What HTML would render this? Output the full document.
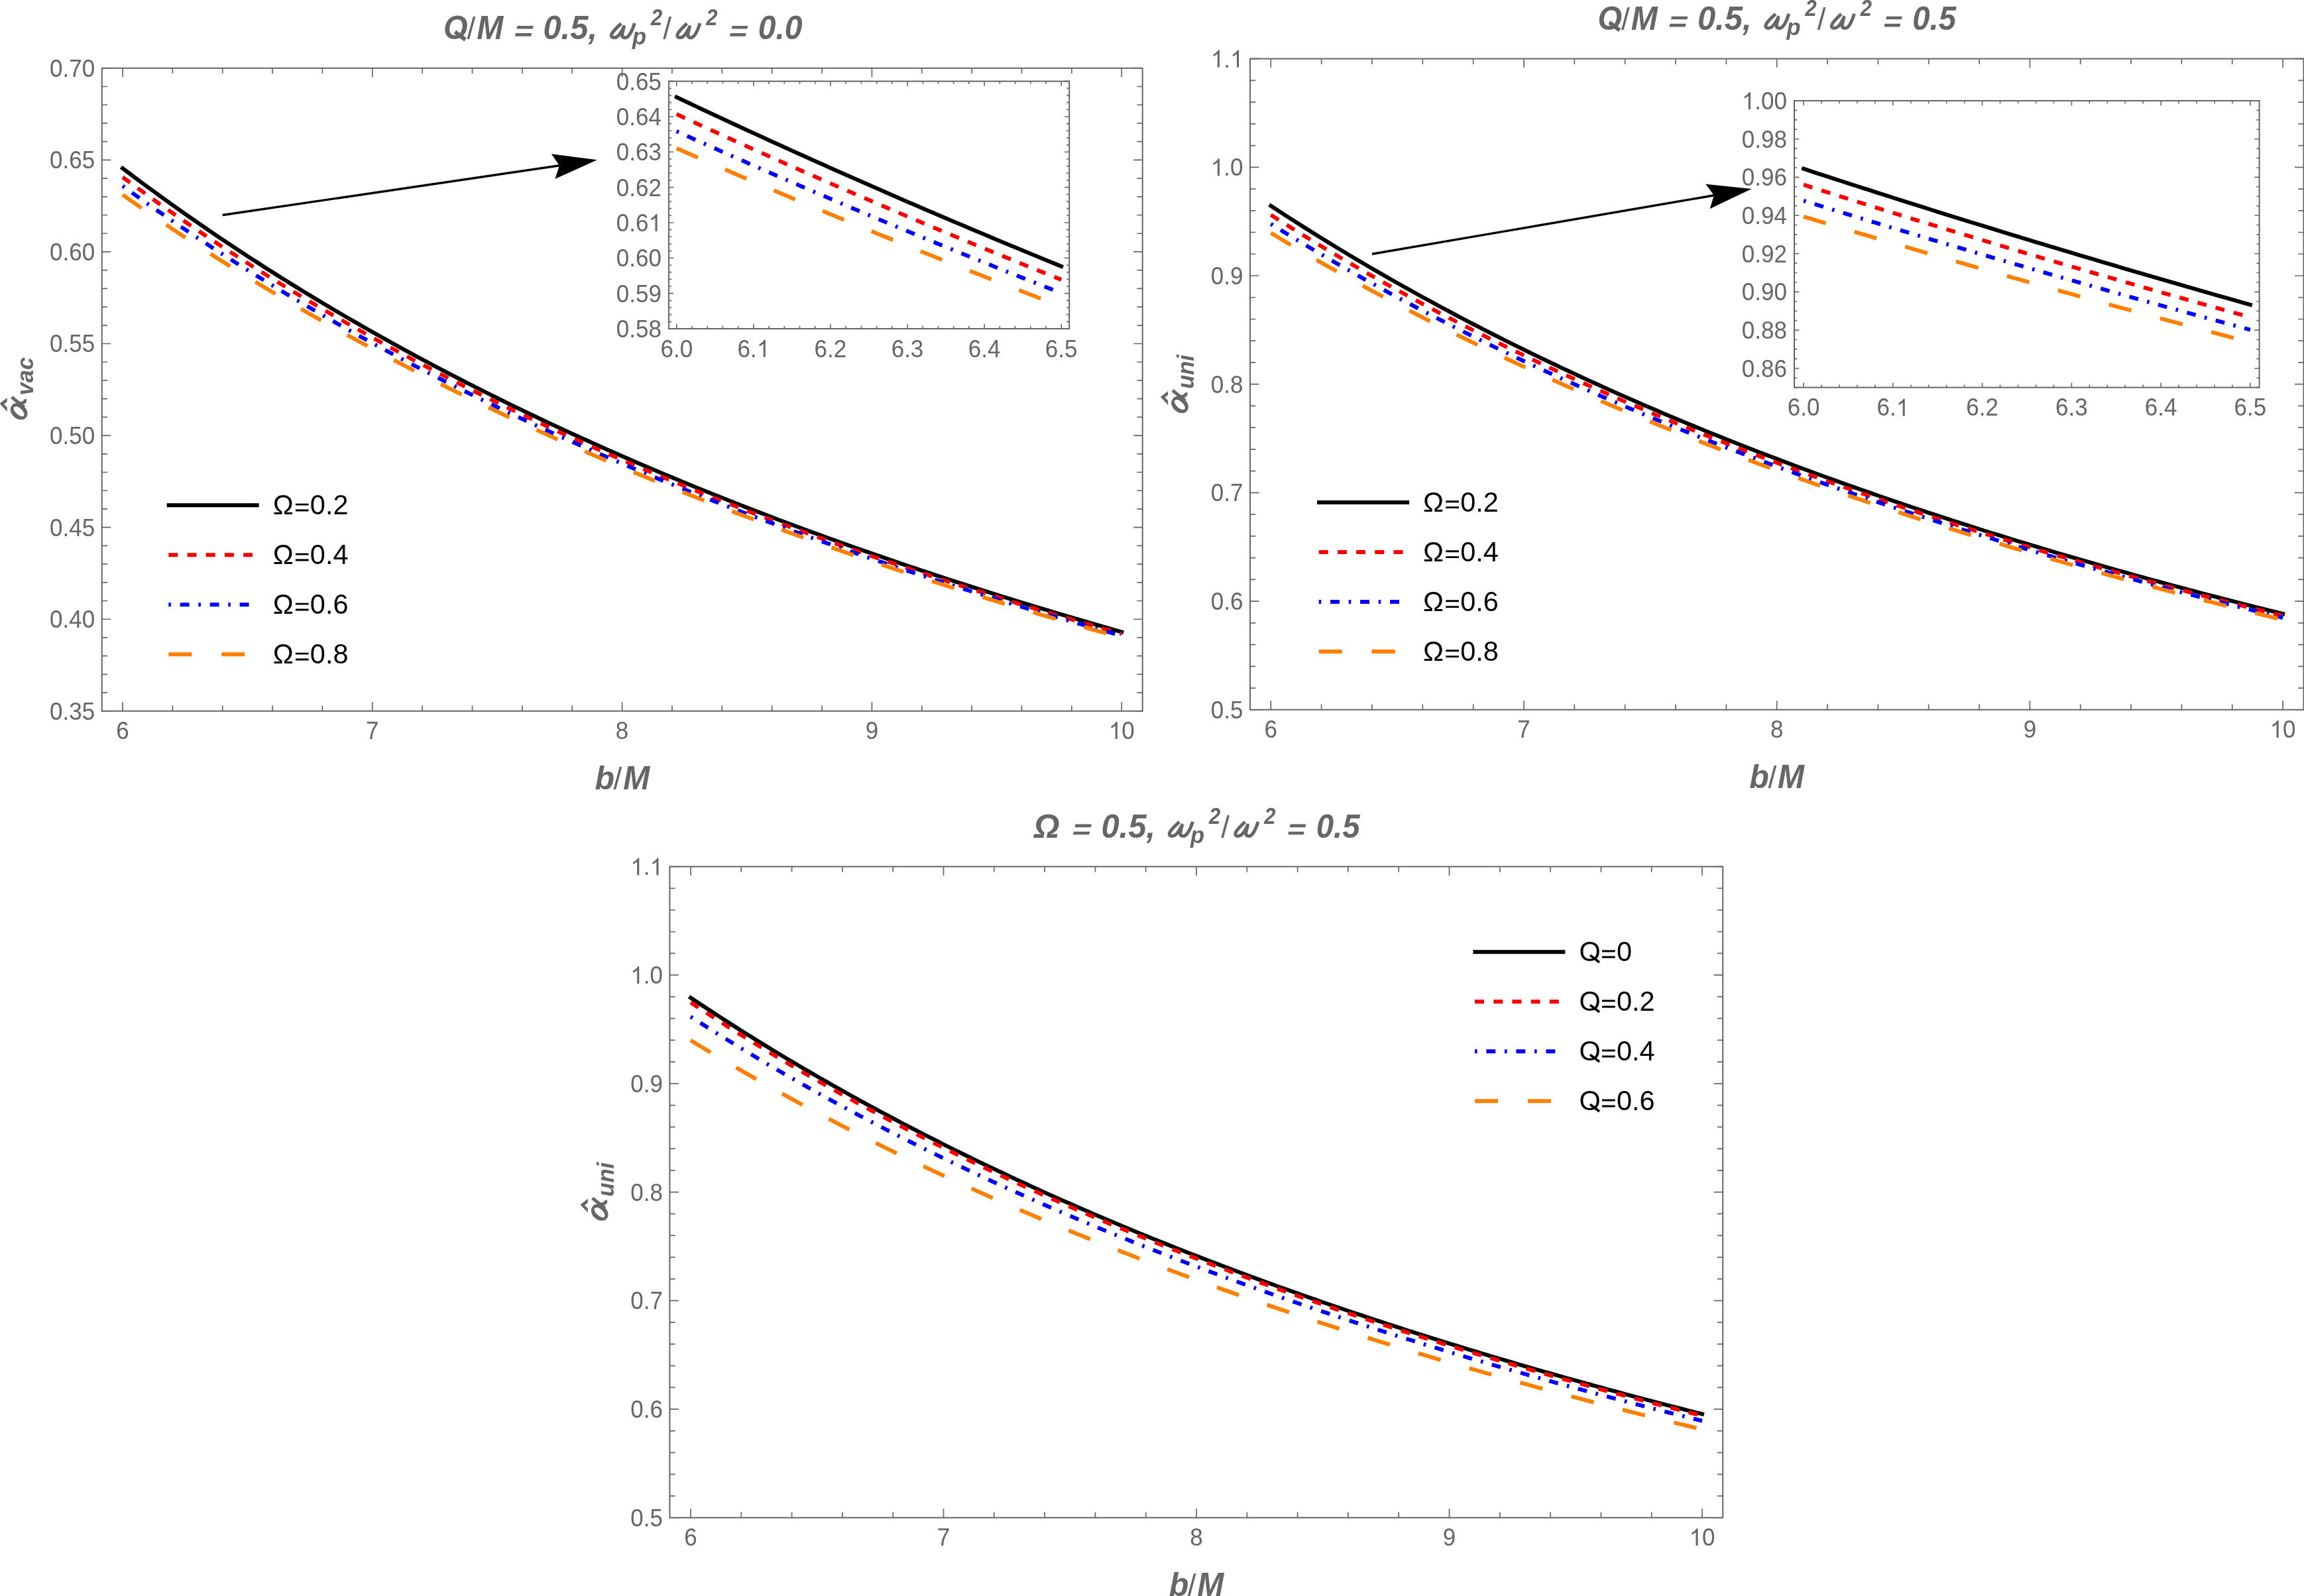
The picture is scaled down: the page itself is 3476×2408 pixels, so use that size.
<!DOCTYPE html>
<html><head><meta charset="utf-8"><title>Deflection angle plots</title>
<style>
html,body{margin:0;padding:0;background:#fff;}
body{width:3476px;height:2408px;overflow:hidden;font-family:"Liberation Sans",sans-serif;}
svg{display:block;will-change:transform;}
</style></head><body>
<svg width="3476" height="2408" viewBox="0 0 3476 2408" font-family="Liberation Sans, sans-serif">
<g>
<path d="M185.00,253.87 L194.42,261.00 L203.84,268.07 L213.26,275.08 L222.68,282.04 L232.10,288.95 L241.52,295.80 L250.94,302.60 L260.36,309.34 L269.78,316.04 L279.20,322.68 L288.62,329.28 L298.04,335.82 L307.46,342.32 L316.88,348.76 L326.30,355.16 L335.72,361.51 L345.14,367.81 L354.56,374.07 L363.98,380.28 L373.40,386.44 L382.82,392.56 L392.24,398.63 L401.66,404.66 L411.08,410.65 L420.50,416.59 L429.92,422.49 L439.34,428.35 L448.76,434.17 L458.18,439.94 L467.60,445.67 L477.02,451.37 L486.44,457.02 L495.86,462.63 L505.28,468.21 L514.70,473.74 L524.12,479.24 L533.54,484.70 L542.96,490.12 L552.38,495.50 L561.80,500.85 L571.22,506.16 L580.64,511.43 L590.06,516.67 L599.48,521.87 L608.90,527.04 L618.32,532.17 L627.74,537.27 L637.16,542.33 L646.58,547.36 L656.00,552.36 L665.42,557.32 L674.84,562.25 L684.26,567.15 L693.68,572.02 L703.10,576.85 L712.52,581.66 L721.94,586.43 L731.36,591.17 L740.78,595.88 L750.20,600.56 L759.62,605.21 L769.04,609.83 L778.46,614.42 L787.88,618.98 L797.30,623.52 L806.72,628.02 L816.14,632.50 L825.56,636.94 L834.98,641.36 L844.40,645.76 L853.82,650.12 L863.24,654.46 L872.66,658.77 L882.08,663.06 L891.50,667.32 L900.92,671.55 L910.34,675.76 L919.76,679.94 L929.18,684.09 L938.60,688.22 L948.02,692.33 L957.44,696.41 L966.86,700.47 L976.28,704.50 L985.70,708.51 L995.12,712.49 L1004.54,716.45 L1013.96,720.39 L1023.38,724.30 L1032.80,728.20 L1042.22,732.06 L1051.64,735.91 L1061.06,739.73 L1070.48,743.53 L1079.90,747.31 L1089.32,751.07 L1098.74,754.81 L1108.16,758.52 L1117.58,762.21 L1127.00,765.89 L1136.42,769.54 L1145.84,773.17 L1155.26,776.78 L1164.68,780.37 L1174.10,783.94 L1183.52,787.49 L1192.94,791.02 L1202.36,794.53 L1211.78,798.02 L1221.20,801.49 L1230.62,804.94 L1240.04,808.37 L1249.46,811.78 L1258.88,815.18 L1268.30,818.55 L1277.72,821.91 L1287.14,825.25 L1296.56,828.57 L1305.98,831.88 L1315.40,835.16 L1324.82,838.43 L1334.24,841.68 L1343.66,844.91 L1353.08,848.13 L1362.50,851.33 L1371.92,854.51 L1381.34,857.67 L1390.76,860.82 L1400.18,863.95 L1409.60,867.07 L1419.02,870.16 L1428.44,873.25 L1437.86,876.31 L1447.28,879.36 L1456.70,882.40 L1466.12,885.41 L1475.54,888.42 L1484.96,891.40 L1494.38,894.38 L1503.80,897.33 L1513.22,900.27 L1522.64,903.20 L1532.06,906.11 L1541.48,909.01 L1550.90,911.89 L1560.32,914.76 L1569.74,917.61 L1579.16,920.45 L1588.58,923.28 L1598.00,926.09 L1607.42,928.88 L1616.84,931.67 L1626.26,934.43 L1635.68,937.19 L1645.10,939.93 L1654.52,942.66 L1663.94,945.37 L1673.36,948.07 L1682.78,950.76 L1692.20,953.44" stroke="#000000" stroke-width="6.00" stroke-linecap="square" fill="none"/>
<path d="M185.00,267.22 L194.42,274.18 L203.84,281.08 L213.26,287.94 L222.68,294.74 L232.10,301.49 L241.52,308.19 L250.94,314.84 L260.36,321.44 L269.78,327.99 L279.20,334.49 L288.62,340.94 L298.04,347.35 L307.46,353.71 L316.88,360.02 L326.30,366.28 L335.72,372.50 L345.14,378.68 L354.56,384.81 L363.98,390.89 L373.40,396.94 L382.82,402.93 L392.24,408.89 L401.66,414.80 L411.08,420.67 L420.50,426.50 L429.92,432.29 L439.34,438.04 L448.76,443.75 L458.18,449.42 L467.60,455.05 L477.02,460.64 L486.44,466.19 L495.86,471.70 L505.28,477.17 L514.70,482.61 L524.12,488.01 L533.54,493.38 L542.96,498.70 L552.38,503.99 L561.80,509.25 L571.22,514.47 L580.64,519.66 L590.06,524.81 L599.48,529.92 L608.90,535.01 L618.32,540.05 L627.74,545.07 L637.16,550.05 L646.58,555.00 L656.00,559.92 L665.42,564.81 L674.84,569.66 L684.26,574.48 L693.68,579.28 L703.10,584.04 L712.52,588.77 L721.94,593.47 L731.36,598.14 L740.78,602.78 L750.20,607.39 L759.62,611.97 L769.04,616.53 L778.46,621.05 L787.88,625.55 L797.30,630.02 L806.72,634.46 L816.14,638.87 L825.56,643.26 L834.98,647.62 L844.40,651.95 L853.82,656.26 L863.24,660.53 L872.66,664.79 L882.08,669.02 L891.50,673.22 L900.92,677.39 L910.34,681.55 L919.76,685.67 L929.18,689.78 L938.60,693.85 L948.02,697.91 L957.44,701.94 L966.86,705.94 L976.28,709.92 L985.70,713.88 L995.12,717.82 L1004.54,721.73 L1013.96,725.62 L1023.38,729.48 L1032.80,733.33 L1042.22,737.15 L1051.64,740.95 L1061.06,744.73 L1070.48,748.49 L1079.90,752.22 L1089.32,755.93 L1098.74,759.63 L1108.16,763.30 L1117.58,766.95 L1127.00,770.58 L1136.42,774.19 L1145.84,777.78 L1155.26,781.35 L1164.68,784.90 L1174.10,788.43 L1183.52,791.94 L1192.94,795.43 L1202.36,798.90 L1211.78,802.35 L1221.20,805.79 L1230.62,809.20 L1240.04,812.60 L1249.46,815.98 L1258.88,819.34 L1268.30,822.68 L1277.72,826.00 L1287.14,829.31 L1296.56,832.59 L1305.98,835.86 L1315.40,839.12 L1324.82,842.35 L1334.24,845.57 L1343.66,848.77 L1353.08,851.95 L1362.50,855.12 L1371.92,858.27 L1381.34,861.40 L1390.76,864.52 L1400.18,867.62 L1409.60,870.71 L1419.02,873.78 L1428.44,876.83 L1437.86,879.87 L1447.28,882.89 L1456.70,885.89 L1466.12,888.88 L1475.54,891.86 L1484.96,894.82 L1494.38,897.76 L1503.80,900.69 L1513.22,903.61 L1522.64,906.51 L1532.06,909.40 L1541.48,912.27 L1550.90,915.12 L1560.32,917.97 L1569.74,920.80 L1579.16,923.61 L1588.58,926.41 L1598.00,929.20 L1607.42,931.97 L1616.84,934.73 L1626.26,937.47 L1635.68,940.20 L1645.10,942.92 L1654.52,945.63 L1663.94,948.32 L1673.36,951.00 L1682.78,953.67 L1692.20,956.32" stroke="#f80000" stroke-width="6.00" stroke-dasharray="14.0 14.2" fill="none"/>
<path d="M185.00,280.56 L194.42,287.35 L203.84,294.10 L213.26,300.79 L222.68,307.44 L232.10,314.03 L241.52,320.58 L250.94,327.08 L260.36,333.53 L269.78,339.94 L279.20,346.30 L288.62,352.61 L298.04,358.88 L307.46,365.10 L316.88,371.27 L326.30,377.41 L335.72,383.50 L345.14,389.55 L354.56,395.55 L363.98,401.51 L373.40,407.43 L382.82,413.31 L392.24,419.15 L401.66,424.94 L411.08,430.70 L420.50,436.42 L429.92,442.09 L439.34,447.73 L448.76,453.33 L458.18,458.89 L467.60,464.42 L477.02,469.90 L486.44,475.35 L495.86,480.77 L505.28,486.14 L514.70,491.48 L524.12,496.79 L533.54,502.05 L542.96,507.29 L552.38,512.49 L561.80,517.65 L571.22,522.78 L580.64,527.88 L590.06,532.94 L599.48,537.98 L608.90,542.97 L618.32,547.94 L627.74,552.87 L637.16,557.78 L646.58,562.65 L656.00,567.48 L665.42,572.29 L674.84,577.07 L684.26,581.82 L693.68,586.54 L703.10,591.22 L712.52,595.88 L721.94,600.51 L731.36,605.11 L740.78,609.68 L750.20,614.22 L759.62,618.74 L769.04,623.22 L778.46,627.68 L787.88,632.11 L797.30,636.52 L806.72,640.90 L816.14,645.25 L825.56,649.57 L834.98,653.87 L844.40,658.14 L853.82,662.39 L863.24,666.61 L872.66,670.80 L882.08,674.97 L891.50,679.12 L900.92,683.24 L910.34,687.34 L919.76,691.41 L929.18,695.46 L938.60,699.48 L948.02,703.48 L957.44,707.46 L966.86,711.41 L976.28,715.35 L985.70,719.25 L995.12,723.14 L1004.54,727.00 L1013.96,730.84 L1023.38,734.66 L1032.80,738.46 L1042.22,742.24 L1051.64,745.99 L1061.06,749.72 L1070.48,753.44 L1079.90,757.13 L1089.32,760.80 L1098.74,764.45 L1108.16,768.08 L1117.58,771.68 L1127.00,775.27 L1136.42,778.84 L1145.84,782.39 L1155.26,785.92 L1164.68,789.43 L1174.10,792.92 L1183.52,796.39 L1192.94,799.85 L1202.36,803.28 L1211.78,806.69 L1221.20,810.09 L1230.62,813.47 L1240.04,816.83 L1249.46,820.17 L1258.88,823.49 L1268.30,826.80 L1277.72,830.09 L1287.14,833.36 L1296.56,836.61 L1305.98,839.85 L1315.40,843.07 L1324.82,846.27 L1334.24,849.46 L1343.66,852.63 L1353.08,855.78 L1362.50,858.91 L1371.92,862.03 L1381.34,865.14 L1390.76,868.22 L1400.18,871.29 L1409.60,874.35 L1419.02,877.39 L1428.44,880.41 L1437.86,883.42 L1447.28,886.41 L1456.70,889.39 L1466.12,892.35 L1475.54,895.30 L1484.96,898.24 L1494.38,901.15 L1503.80,904.06 L1513.22,906.95 L1522.64,909.82 L1532.06,912.68 L1541.48,915.53 L1550.90,918.36 L1560.32,921.17 L1569.74,923.98 L1579.16,926.77 L1588.58,929.54 L1598.00,932.31 L1607.42,935.05 L1616.84,937.79 L1626.26,940.51 L1635.68,943.22 L1645.10,945.92 L1654.52,948.60 L1663.94,951.27 L1673.36,953.93 L1682.78,956.57 L1692.20,959.20" stroke="#0000f0" stroke-width="6.00" stroke-dasharray="3.6 13.8 13.9 13.7" fill="none"/>
<path d="M185.00,293.90 L194.42,300.53 L203.84,307.11 L213.26,313.65 L222.68,320.14 L232.10,326.58 L241.52,332.97 L250.94,339.32 L260.36,345.63 L269.78,351.89 L279.20,358.10 L288.62,364.27 L298.04,370.40 L307.46,376.49 L316.88,382.53 L326.30,388.53 L335.72,394.49 L345.14,400.41 L354.56,406.29 L363.98,412.13 L373.40,417.93 L382.82,423.68 L392.24,429.40 L401.66,435.08 L411.08,440.73 L420.50,446.33 L429.92,451.90 L439.34,457.42 L448.76,462.92 L458.18,468.37 L467.60,473.79 L477.02,479.17 L486.44,484.52 L495.86,489.83 L505.28,495.11 L514.70,500.35 L524.12,505.56 L533.54,510.73 L542.96,515.87 L552.38,520.98 L561.80,526.06 L571.22,531.10 L580.64,536.11 L590.06,541.08 L599.48,546.03 L608.90,550.94 L618.32,555.82 L627.74,560.68 L637.16,565.50 L646.58,570.29 L656.00,575.05 L665.42,579.78 L674.84,584.48 L684.26,589.15 L693.68,593.79 L703.10,598.41 L712.52,602.99 L721.94,607.55 L731.36,612.08 L740.78,616.58 L750.20,621.06 L759.62,625.50 L769.04,629.92 L778.46,634.31 L787.88,638.68 L797.30,643.02 L806.72,647.33 L816.14,651.62 L825.56,655.88 L834.98,660.12 L844.40,664.33 L853.82,668.52 L863.24,672.68 L872.66,676.82 L882.08,680.93 L891.50,685.02 L900.92,689.09 L910.34,693.13 L919.76,697.15 L929.18,701.14 L938.60,705.11 L948.02,709.06 L957.44,712.99 L966.86,716.89 L976.28,720.77 L985.70,724.63 L995.12,728.46 L1004.54,732.28 L1013.96,736.07 L1023.38,739.84 L1032.80,743.59 L1042.22,747.32 L1051.64,751.03 L1061.06,754.72 L1070.48,758.39 L1079.90,762.03 L1089.32,765.66 L1098.74,769.27 L1108.16,772.85 L1117.58,776.42 L1127.00,779.97 L1136.42,783.49 L1145.84,787.00 L1155.26,790.49 L1164.68,793.96 L1174.10,797.41 L1183.52,800.85 L1192.94,804.26 L1202.36,807.66 L1211.78,811.03 L1221.20,814.39 L1230.62,817.73 L1240.04,821.06 L1249.46,824.36 L1258.88,827.65 L1268.30,830.92 L1277.72,834.18 L1287.14,837.41 L1296.56,840.63 L1305.98,843.84 L1315.40,847.02 L1324.82,850.19 L1334.24,853.35 L1343.66,856.48 L1353.08,859.60 L1362.50,862.71 L1371.92,865.80 L1381.34,868.87 L1390.76,871.92 L1400.18,874.97 L1409.60,877.99 L1419.02,881.00 L1428.44,884.00 L1437.86,886.98 L1447.28,889.94 L1456.70,892.89 L1466.12,895.83 L1475.54,898.75 L1484.96,901.65 L1494.38,904.54 L1503.80,907.42 L1513.22,910.28 L1522.64,913.13 L1532.06,915.96 L1541.48,918.78 L1550.90,921.59 L1560.32,924.38 L1569.74,927.16 L1579.16,929.93 L1588.58,932.68 L1598.00,935.42 L1607.42,938.14 L1616.84,940.85 L1626.26,943.55 L1635.68,946.24 L1645.10,948.91 L1654.52,951.57 L1663.94,954.22 L1673.36,956.85 L1682.78,959.47 L1692.20,962.08" stroke="#ff8000" stroke-width="6.00" stroke-dasharray="35 44.9" fill="none"/>
<path d="M185.00,1072.80v-13.50M185.00,102.80v13.50M260.36,1072.80v-8.30M260.36,102.80v8.30M335.72,1072.80v-8.30M335.72,102.80v8.30M411.08,1072.80v-8.30M411.08,102.80v8.30M486.44,1072.80v-8.30M486.44,102.80v8.30M561.80,1072.80v-13.50M561.80,102.80v13.50M637.16,1072.80v-8.30M637.16,102.80v8.30M712.52,1072.80v-8.30M712.52,102.80v8.30M787.88,1072.80v-8.30M787.88,102.80v8.30M863.24,1072.80v-8.30M863.24,102.80v8.30M938.60,1072.80v-13.50M938.60,102.80v13.50M1013.96,1072.80v-8.30M1013.96,102.80v8.30M1089.32,1072.80v-8.30M1089.32,102.80v8.30M1164.68,1072.80v-8.30M1164.68,102.80v8.30M1240.04,1072.80v-8.30M1240.04,102.80v8.30M1315.40,1072.80v-13.50M1315.40,102.80v13.50M1390.76,1072.80v-8.30M1390.76,102.80v8.30M1466.12,1072.80v-8.30M1466.12,102.80v8.30M1541.48,1072.80v-8.30M1541.48,102.80v8.30M1616.84,1072.80v-8.30M1616.84,102.80v8.30M1692.20,1072.80v-13.50M1692.20,102.80v13.50M153.70,1072.80h13.50M1723.70,1072.80h-13.50M153.70,1045.09h8.30M1723.70,1045.09h-8.30M153.70,1017.37h8.30M1723.70,1017.37h-8.30M153.70,989.66h8.30M1723.70,989.66h-8.30M153.70,961.94h8.30M1723.70,961.94h-8.30M153.70,934.23h13.50M1723.70,934.23h-13.50M153.70,906.51h8.30M1723.70,906.51h-8.30M153.70,878.80h8.30M1723.70,878.80h-8.30M153.70,851.09h8.30M1723.70,851.09h-8.30M153.70,823.37h8.30M1723.70,823.37h-8.30M153.70,795.66h13.50M1723.70,795.66h-13.50M153.70,767.94h8.30M1723.70,767.94h-8.30M153.70,740.23h8.30M1723.70,740.23h-8.30M153.70,712.51h8.30M1723.70,712.51h-8.30M153.70,684.80h8.30M1723.70,684.80h-8.30M153.70,657.09h13.50M1723.70,657.09h-13.50M153.70,629.37h8.30M1723.70,629.37h-8.30M153.70,601.66h8.30M1723.70,601.66h-8.30M153.70,573.94h8.30M1723.70,573.94h-8.30M153.70,546.23h8.30M1723.70,546.23h-8.30M153.70,518.51h13.50M1723.70,518.51h-13.50M153.70,490.80h8.30M1723.70,490.80h-8.30M153.70,463.09h8.30M1723.70,463.09h-8.30M153.70,435.37h8.30M1723.70,435.37h-8.30M153.70,407.66h8.30M1723.70,407.66h-8.30M153.70,379.94h13.50M1723.70,379.94h-13.50M153.70,352.23h8.30M1723.70,352.23h-8.30M153.70,324.51h8.30M1723.70,324.51h-8.30M153.70,296.80h8.30M1723.70,296.80h-8.30M153.70,269.09h8.30M1723.70,269.09h-8.30M153.70,241.37h13.50M1723.70,241.37h-13.50M153.70,213.66h8.30M1723.70,213.66h-8.30M153.70,185.94h8.30M1723.70,185.94h-8.30M153.70,158.23h8.30M1723.70,158.23h-8.30M153.70,130.51h8.30M1723.70,130.51h-8.30M153.70,102.80h13.50M1723.70,102.80h-13.50" stroke="#666666" stroke-width="1.70" fill="none"/>
<rect x="153.70" y="102.80" width="1570.00" height="970.00" stroke="#666666" stroke-width="2.00" fill="none"/>
<g transform="translate(0,1102.15) scale(1,1.035) translate(0,-1102.15)">
<text x="175.27" y="1114.68" font-size="35" fill="#666666">6</text>
</g>
<g transform="translate(0,1102.15) scale(1,1.035) translate(0,-1102.15)">
<text x="552.07" y="1114.68" font-size="35" fill="#666666">7</text>
</g>
<g transform="translate(0,1102.15) scale(1,1.035) translate(0,-1102.15)">
<text x="928.87" y="1114.68" font-size="35" fill="#666666">8</text>
</g>
<g transform="translate(0,1102.15) scale(1,1.035) translate(0,-1102.15)">
<text x="1305.67" y="1114.68" font-size="35" fill="#666666">9</text>
</g>
<g transform="translate(0,1102.15) scale(1,1.035) translate(0,-1102.15)">
<path transform="translate(1672.73,1114.68) scale(0.01709,-0.01709)" d="M763,0 L583,0 L583,1147 Q518,1085 412.5,1023 Q307,961 223,930 L223,1104 Q374,1175 487,1276 Q600,1377 647,1472 L763,1472 Z" fill="#666666"/>
<text x="1692.20" y="1114.68" font-size="35" fill="#666666">0</text>
</g>
<g transform="translate(0,1072.80) scale(1,1.035) translate(0,-1072.80)">
<text x="75.06" y="1085.33" font-size="35" fill="#666666">0.35</text>
</g>
<g transform="translate(0,934.23) scale(1,1.035) translate(0,-934.23)">
<text x="75.06" y="946.76" font-size="35" fill="#666666">0.40</text>
</g>
<g transform="translate(0,795.66) scale(1,1.035) translate(0,-795.66)">
<text x="75.06" y="808.19" font-size="35" fill="#666666">0.45</text>
</g>
<g transform="translate(0,657.09) scale(1,1.035) translate(0,-657.09)">
<text x="75.06" y="669.62" font-size="35" fill="#666666">0.50</text>
</g>
<g transform="translate(0,518.51) scale(1,1.035) translate(0,-518.51)">
<text x="75.06" y="531.04" font-size="35" fill="#666666">0.55</text>
</g>
<g transform="translate(0,379.94) scale(1,1.035) translate(0,-379.94)">
<text x="75.06" y="392.47" font-size="35" fill="#666666">0.60</text>
</g>
<g transform="translate(0,241.37) scale(1,1.035) translate(0,-241.37)">
<text x="75.06" y="253.90" font-size="35" fill="#666666">0.65</text>
</g>
<g transform="translate(0,102.80) scale(1,1.035) translate(0,-102.80)">
<text x="75.06" y="115.33" font-size="35" fill="#666666">0.70</text>
</g>
</g>
<rect x="1009.00" y="122.60" width="604.20" height="373.40" fill="#fff"/>
<path d="M1020.80,146.66 L1030.47,151.24 L1040.15,155.82 L1049.82,160.38 L1059.49,164.92 L1069.17,169.46 L1078.84,173.98 L1088.51,178.49 L1098.19,182.99 L1107.86,187.48 L1117.53,191.96 L1127.21,196.42 L1136.88,200.88 L1146.55,205.32 L1156.23,209.75 L1165.90,214.17 L1175.57,218.58 L1185.25,222.97 L1194.92,227.36 L1204.59,231.73 L1214.27,236.09 L1223.94,240.44 L1233.61,244.78 L1243.29,249.11 L1252.96,253.43 L1262.63,257.74 L1272.31,262.03 L1281.98,266.32 L1291.65,270.59 L1301.33,274.85 L1311.00,279.11 L1320.67,283.35 L1330.35,287.58 L1340.02,291.80 L1349.69,296.01 L1359.37,300.20 L1369.04,304.39 L1378.71,308.57 L1388.39,312.74 L1398.06,316.89 L1407.73,321.04 L1417.41,325.17 L1427.08,329.30 L1436.75,333.41 L1446.43,337.52 L1456.10,341.61 L1465.77,345.70 L1475.45,349.77 L1485.12,353.83 L1494.79,357.89 L1504.47,361.93 L1514.14,365.96 L1523.81,369.99 L1533.49,374.00 L1543.16,378.00 L1552.83,382.00 L1562.51,385.98 L1572.18,389.96 L1581.85,393.92 L1591.53,397.87 L1601.20,401.82" stroke="#000000" stroke-width="6.00" stroke-linecap="square" fill="none"/>
<path d="M1020.80,172.34 L1030.47,176.82 L1040.15,181.29 L1049.82,185.74 L1059.49,190.18 L1069.17,194.61 L1078.84,199.03 L1088.51,203.44 L1098.19,207.84 L1107.86,212.23 L1117.53,216.60 L1127.21,220.97 L1136.88,225.32 L1146.55,229.66 L1156.23,233.99 L1165.90,238.31 L1175.57,242.62 L1185.25,246.92 L1194.92,251.21 L1204.59,255.48 L1214.27,259.75 L1223.94,264.01 L1233.61,268.25 L1243.29,272.48 L1252.96,276.71 L1262.63,280.92 L1272.31,285.12 L1281.98,289.31 L1291.65,293.50 L1301.33,297.67 L1311.00,301.83 L1320.67,305.98 L1330.35,310.12 L1340.02,314.25 L1349.69,318.37 L1359.37,322.48 L1369.04,326.58 L1378.71,330.67 L1388.39,334.75 L1398.06,338.82 L1407.73,342.88 L1417.41,346.92 L1427.08,350.96 L1436.75,354.99 L1446.43,359.01 L1456.10,363.02 L1465.77,367.02 L1475.45,371.01 L1485.12,375.00 L1494.79,378.97 L1504.47,382.93 L1514.14,386.88 L1523.81,390.82 L1533.49,394.75 L1543.16,398.68 L1552.83,402.59 L1562.51,406.50 L1572.18,410.39 L1581.85,414.28 L1591.53,418.15 L1601.20,422.02" stroke="#f80000" stroke-width="6.00" stroke-dasharray="14.0 14.2" fill="none"/>
<path d="M1020.80,198.03 L1030.47,202.40 L1040.15,206.76 L1049.82,211.11 L1059.49,215.44 L1069.17,219.77 L1078.84,224.09 L1088.51,228.39 L1098.19,232.69 L1107.86,236.97 L1117.53,241.24 L1127.21,245.51 L1136.88,249.76 L1146.55,254.00 L1156.23,258.23 L1165.90,262.46 L1175.57,266.67 L1185.25,270.87 L1194.92,275.06 L1204.59,279.24 L1214.27,283.41 L1223.94,287.57 L1233.61,291.72 L1243.29,295.86 L1252.96,299.99 L1262.63,304.10 L1272.31,308.21 L1281.98,312.31 L1291.65,316.40 L1301.33,320.48 L1311.00,324.55 L1320.67,328.61 L1330.35,332.66 L1340.02,336.70 L1349.69,340.73 L1359.37,344.75 L1369.04,348.76 L1378.71,352.77 L1388.39,356.76 L1398.06,360.74 L1407.73,364.71 L1417.41,368.68 L1427.08,372.63 L1436.75,376.58 L1446.43,380.51 L1456.10,384.44 L1465.77,388.35 L1475.45,392.26 L1485.12,396.16 L1494.79,400.05 L1504.47,403.93 L1514.14,407.80 L1523.81,411.66 L1533.49,415.51 L1543.16,419.35 L1552.83,423.19 L1562.51,427.01 L1572.18,430.83 L1581.85,434.63 L1591.53,438.43 L1601.20,442.22" stroke="#0000f0" stroke-width="6.00" stroke-dasharray="3.6 13.8 13.9 13.7" fill="none"/>
<path d="M1020.80,223.71 L1030.47,227.98 L1040.15,232.23 L1049.82,236.47 L1059.49,240.70 L1069.17,244.93 L1078.84,249.14 L1088.51,253.34 L1098.19,257.53 L1107.86,261.72 L1117.53,265.89 L1127.21,270.05 L1136.88,274.20 L1146.55,278.34 L1156.23,282.48 L1165.90,286.60 L1175.57,290.71 L1185.25,294.81 L1194.92,298.91 L1204.59,302.99 L1214.27,307.06 L1223.94,311.13 L1233.61,315.18 L1243.29,319.23 L1252.96,323.26 L1262.63,327.29 L1272.31,331.30 L1281.98,335.31 L1291.65,339.31 L1301.33,343.30 L1311.00,347.27 L1320.67,351.24 L1330.35,355.20 L1340.02,359.15 L1349.69,363.10 L1359.37,367.03 L1369.04,370.95 L1378.71,374.86 L1388.39,378.77 L1398.06,382.66 L1407.73,386.55 L1417.41,390.43 L1427.08,394.30 L1436.75,398.16 L1446.43,402.01 L1456.10,405.85 L1465.77,409.68 L1475.45,413.51 L1485.12,417.32 L1494.79,421.13 L1504.47,424.92 L1514.14,428.71 L1523.81,432.49 L1533.49,436.26 L1543.16,440.03 L1552.83,443.78 L1562.51,447.53 L1572.18,451.26 L1581.85,454.99 L1591.53,458.71 L1601.20,462.42" stroke="#ff8000" stroke-width="6.00" stroke-dasharray="35 44.9" fill="none"/>
<path d="M1020.80,496.00v-7.20M1020.80,122.60v7.20M1044.02,496.00v-4.20M1044.02,122.60v4.20M1067.23,496.00v-4.20M1067.23,122.60v4.20M1090.45,496.00v-4.20M1090.45,122.60v4.20M1113.66,496.00v-4.20M1113.66,122.60v4.20M1136.88,496.00v-7.20M1136.88,122.60v7.20M1160.10,496.00v-4.20M1160.10,122.60v4.20M1183.31,496.00v-4.20M1183.31,122.60v4.20M1206.53,496.00v-4.20M1206.53,122.60v4.20M1229.74,496.00v-4.20M1229.74,122.60v4.20M1252.96,496.00v-7.20M1252.96,122.60v7.20M1276.18,496.00v-4.20M1276.18,122.60v4.20M1299.39,496.00v-4.20M1299.39,122.60v4.20M1322.61,496.00v-4.20M1322.61,122.60v4.20M1345.82,496.00v-4.20M1345.82,122.60v4.20M1369.04,496.00v-7.20M1369.04,122.60v7.20M1392.26,496.00v-4.20M1392.26,122.60v4.20M1415.47,496.00v-4.20M1415.47,122.60v4.20M1438.69,496.00v-4.20M1438.69,122.60v4.20M1461.90,496.00v-4.20M1461.90,122.60v4.20M1485.12,496.00v-7.20M1485.12,122.60v7.20M1508.34,496.00v-4.20M1508.34,122.60v4.20M1531.55,496.00v-4.20M1531.55,122.60v4.20M1554.77,496.00v-4.20M1554.77,122.60v4.20M1577.98,496.00v-4.20M1577.98,122.60v4.20M1601.20,496.00v-7.20M1601.20,122.60v7.20M1009.00,496.00h7.20M1613.20,496.00h-7.20M1009.00,485.33h4.20M1613.20,485.33h-4.20M1009.00,474.66h4.20M1613.20,474.66h-4.20M1009.00,463.99h4.20M1613.20,463.99h-4.20M1009.00,453.33h4.20M1613.20,453.33h-4.20M1009.00,442.66h7.20M1613.20,442.66h-7.20M1009.00,431.99h4.20M1613.20,431.99h-4.20M1009.00,421.32h4.20M1613.20,421.32h-4.20M1009.00,410.65h4.20M1613.20,410.65h-4.20M1009.00,399.98h4.20M1613.20,399.98h-4.20M1009.00,389.31h7.20M1613.20,389.31h-7.20M1009.00,378.65h4.20M1613.20,378.65h-4.20M1009.00,367.98h4.20M1613.20,367.98h-4.20M1009.00,357.31h4.20M1613.20,357.31h-4.20M1009.00,346.64h4.20M1613.20,346.64h-4.20M1009.00,335.97h7.20M1613.20,335.97h-7.20M1009.00,325.30h4.20M1613.20,325.30h-4.20M1009.00,314.63h4.20M1613.20,314.63h-4.20M1009.00,303.97h4.20M1613.20,303.97h-4.20M1009.00,293.30h4.20M1613.20,293.30h-4.20M1009.00,282.63h7.20M1613.20,282.63h-7.20M1009.00,271.96h4.20M1613.20,271.96h-4.20M1009.00,261.29h4.20M1613.20,261.29h-4.20M1009.00,250.62h4.20M1613.20,250.62h-4.20M1009.00,239.95h4.20M1613.20,239.95h-4.20M1009.00,229.29h7.20M1613.20,229.29h-7.20M1009.00,218.62h4.20M1613.20,218.62h-4.20M1009.00,207.95h4.20M1613.20,207.95h-4.20M1009.00,197.28h4.20M1613.20,197.28h-4.20M1009.00,186.61h4.20M1613.20,186.61h-4.20M1009.00,175.94h7.20M1613.20,175.94h-7.20M1009.00,165.27h4.20M1613.20,165.27h-4.20M1009.00,154.61h4.20M1613.20,154.61h-4.20M1009.00,143.94h4.20M1613.20,143.94h-4.20M1009.00,133.27h4.20M1613.20,133.27h-4.20M1009.00,122.60h7.20M1613.20,122.60h-7.20" stroke="#666666" stroke-width="1.60" fill="none"/>
<rect x="1009.00" y="122.60" width="604.20" height="373.40" stroke="#666666" stroke-width="2.00" fill="none"/>
<g transform="translate(0,525.85) scale(1,1.035) translate(0,-525.85)">
<text x="996.46" y="538.38" font-size="35" fill="#666666">6.0</text>
</g>
<g transform="translate(0,525.85) scale(1,1.035) translate(0,-525.85)">
<text x="1112.54" y="538.38" font-size="35" fill="#666666">6.</text>
<path transform="translate(1141.75,538.38) scale(0.01709,-0.01709)" d="M763,0 L583,0 L583,1147 Q518,1085 412.5,1023 Q307,961 223,930 L223,1104 Q374,1175 487,1276 Q600,1377 647,1472 L763,1472 Z" fill="#666666"/>
</g>
<g transform="translate(0,525.85) scale(1,1.035) translate(0,-525.85)">
<text x="1228.62" y="538.38" font-size="35" fill="#666666">6.2</text>
</g>
<g transform="translate(0,525.85) scale(1,1.035) translate(0,-525.85)">
<text x="1344.70" y="538.38" font-size="35" fill="#666666">6.3</text>
</g>
<g transform="translate(0,525.85) scale(1,1.035) translate(0,-525.85)">
<text x="1460.78" y="538.38" font-size="35" fill="#666666">6.4</text>
</g>
<g transform="translate(0,525.85) scale(1,1.035) translate(0,-525.85)">
<text x="1576.86" y="538.38" font-size="35" fill="#666666">6.5</text>
</g>
<g transform="translate(0,496.00) scale(1,1.035) translate(0,-496.00)">
<text x="929.86" y="508.53" font-size="35" fill="#666666">0.58</text>
</g>
<g transform="translate(0,442.66) scale(1,1.035) translate(0,-442.66)">
<text x="929.86" y="455.19" font-size="35" fill="#666666">0.59</text>
</g>
<g transform="translate(0,389.31) scale(1,1.035) translate(0,-389.31)">
<text x="929.86" y="401.84" font-size="35" fill="#666666">0.60</text>
</g>
<g transform="translate(0,335.97) scale(1,1.035) translate(0,-335.97)">
<text x="929.86" y="348.50" font-size="35" fill="#666666">0.6</text>
<path transform="translate(978.53,348.50) scale(0.01709,-0.01709)" d="M763,0 L583,0 L583,1147 Q518,1085 412.5,1023 Q307,961 223,930 L223,1104 Q374,1175 487,1276 Q600,1377 647,1472 L763,1472 Z" fill="#666666"/>
</g>
<g transform="translate(0,282.63) scale(1,1.035) translate(0,-282.63)">
<text x="929.86" y="295.16" font-size="35" fill="#666666">0.62</text>
</g>
<g transform="translate(0,229.29) scale(1,1.035) translate(0,-229.29)">
<text x="929.86" y="241.82" font-size="35" fill="#666666">0.63</text>
</g>
<g transform="translate(0,175.94) scale(1,1.035) translate(0,-175.94)">
<text x="929.86" y="188.47" font-size="35" fill="#666666">0.64</text>
</g>
<g transform="translate(0,122.60) scale(1,1.035) translate(0,-122.60)">
<text x="929.86" y="135.13" font-size="35" fill="#666666">0.65</text>
</g>
<path d="M335.72,324.51L844.03,249.74" stroke="#000" stroke-width="3.4" fill="none"/>
<path d="M900.92,241.37 L837.40,269.92 L844.03,249.74 L831.87,232.32 Z" fill="#000"/>
<path d="M251.70,762.30h139" stroke="#000000" stroke-width="6.00" fill="none"/>
<text transform="translate(411.70,776.20) scale(1,1.04)" font-size="41.5" fill="#000">Ω</text>
<path d="M445.88,759.70h19.7v2.9h-19.7z M445.88,768.60h19.7v2.9h-19.7z" fill="#000"/>
<text transform="translate(467.81,776.20) scale(1,1.04)" font-size="41.5" fill="#000">0.2</text>
<path d="M254.30,837.30h133" stroke="#f80000" stroke-width="6.00" stroke-dasharray="14.0 14.2" fill="none"/>
<text transform="translate(411.70,851.20) scale(1,1.04)" font-size="41.5" fill="#000">Ω</text>
<path d="M445.88,834.70h19.7v2.9h-19.7z M445.88,843.60h19.7v2.9h-19.7z" fill="#000"/>
<text transform="translate(467.81,851.20) scale(1,1.04)" font-size="41.5" fill="#000">0.4</text>
<path d="M254.30,912.30h133" stroke="#0000f0" stroke-width="6.00" stroke-dasharray="3.6 13.8 13.9 13.7" fill="none"/>
<text transform="translate(411.70,926.20) scale(1,1.04)" font-size="41.5" fill="#000">Ω</text>
<path d="M445.88,909.70h19.7v2.9h-19.7z M445.88,918.60h19.7v2.9h-19.7z" fill="#000"/>
<text transform="translate(467.81,926.20) scale(1,1.04)" font-size="41.5" fill="#000">0.6</text>
<path d="M254.30,987.30h133" stroke="#ff8000" stroke-width="6.00" stroke-dasharray="35 44.9" fill="none"/>
<text transform="translate(411.70,1001.20) scale(1,1.04)" font-size="41.5" fill="#000">Ω</text>
<path d="M445.88,984.70h19.7v2.9h-19.7z M445.88,993.60h19.7v2.9h-19.7z" fill="#000"/>
<text transform="translate(467.81,1001.20) scale(1,1.04)" font-size="41.5" fill="#000">0.8</text>
<text transform="translate(668.94,59.20) scale(0.9600,1.015)" font-size="49" fill="#666666" font-weight="bold" font-style="italic">O</text>
<path d="M688.00,45.50 L703.70,57.20 L700.40,62.60 L684.80,50.50 z" fill="#666666"/>
<text transform="translate(704.60,59.20) scale(1.0000,1.000)" font-size="46" fill="#666666" >/</text>
<text transform="translate(719.16,59.20) scale(0.9805,1.015)" font-size="49" fill="#666666" font-weight="bold" font-style="italic">M</text>
<path d="M776.90,54.70 h24.30 l1,-4.6 h-24.30 z M779.50,43.60 h24.30 l1,-4.6 h-24.30 z" fill="#666666"/>
<text transform="translate(819.40,59.20) scale(0.9987,1.015)" font-size="49" fill="#666666" font-weight="bold" font-style="italic">0.5,</text>
<path transform="translate(919.40,59.20) scale(1.000,1)" d="M17.9,-23.7 C12.5,-19 6.5,-13 3.7,-8.5 C1.7,-5 3.2,-2.35 7.2,-2.35 C11.5,-2.35 15.3,-6.5 18.6,-12.5 L22.0,-18.8 C21,-14 19.2,-9 19.3,-5.8 C19.4,-3.2 21.5,-2.3 24.0,-2.3 C28.5,-2.3 33.5,-10 38.0,-24.1" fill="none" stroke="#666666" stroke-width="5.0" stroke-linejoin="round"/>
<text transform="translate(953.95,67.30) scale(1.0000,1.015)" font-size="34.5" fill="#666666" font-weight="bold" font-style="italic">p</text>
<text transform="translate(981.95,38.30) scale(0.8987,1.015)" font-size="34.5" fill="#666666" font-weight="bold" font-style="italic">2</text>
<text transform="translate(1000.30,59.20) scale(1.0000,1.000)" font-size="46" fill="#666666" >/</text>
<path transform="translate(1019.00,59.20) scale(0.975,1)" d="M17.9,-23.7 C12.5,-19 6.5,-13 3.7,-8.5 C1.7,-5 3.2,-2.35 7.2,-2.35 C11.5,-2.35 15.3,-6.5 18.6,-12.5 L22.0,-18.8 C21,-14 19.2,-9 19.3,-5.8 C19.4,-3.2 21.5,-2.3 24.0,-2.3 C28.5,-2.3 33.5,-10 38.0,-24.1" fill="none" stroke="#666666" stroke-width="5.0" stroke-linejoin="round"/>
<text transform="translate(1065.35,38.30) scale(0.8987,1.015)" font-size="34.5" fill="#666666" font-weight="bold" font-style="italic">2</text>
<path d="M1101.10,54.70 h23.60 l1,-4.6 h-23.60 z M1103.70,43.60 h23.60 l1,-4.6 h-23.60 z" fill="#666666"/>
<text transform="translate(1143.74,59.20) scale(0.9817,1.015)" font-size="49" fill="#666666" font-weight="bold" font-style="italic">0.0</text>
<text transform="translate(897.46,1190.90) scale(0.9874,1.015)" font-size="49" fill="#666666" font-weight="bold" font-style="italic">b</text>
<text transform="translate(925.60,1190.90) scale(1.0000,1.000)" font-size="46" fill="#666666" >/</text>
<text transform="translate(940.16,1190.90) scale(0.9805,1.015)" font-size="49" fill="#666666" font-weight="bold" font-style="italic">M</text>
<g transform="translate(41.00,633.00) rotate(-90)">
<g transform="translate(0.00,0.00)">
<path d="M21.00,-23.12 A14.00,10.60 -50.0 1 0 3.00,-1.68 A14.00,10.60 -50.0 1 0 21.00,-23.12 Z M19.22,-19.91 A10.00,4.70 -47.0 1 0 5.58,-5.29 A10.00,4.70 -47.0 1 0 19.22,-19.91 Z" fill="#666666" fill-rule="evenodd"/>
<path d="M33.9,-23.4 L18.6,-4.4" fill="none" stroke="#666666" stroke-width="5.0"/>
<path d="M20.5,-21.5 C23.2,-16 24.6,-9 25.7,-5.6 C26.3,-3.5 27.8,-2.5 30.4,-3.7" fill="none" stroke="#666666" stroke-width="4.8"/>
</g>
<text transform="translate(36.55,8.80) scale(1.0000,1.015)" font-size="34.5" fill="#666666" font-weight="bold" font-style="italic">vac</text>
<path d="M12,-30.3 L24.1,-41.6 L32.7,-30.3 L27.1,-30.3 L23.1,-35.0 L18.4,-30.3 Z" fill="#666666"/>
</g>
<g>
<path d="M1917.30,310.58 L1926.84,316.84 L1936.38,323.04 L1945.93,329.20 L1955.47,335.31 L1965.01,341.37 L1974.56,347.39 L1984.10,353.35 L1993.64,359.28 L2003.18,365.16 L2012.72,370.99 L2022.27,376.78 L2031.81,382.53 L2041.35,388.23 L2050.89,393.89 L2060.44,399.51 L2069.98,405.09 L2079.52,410.63 L2089.07,416.12 L2098.61,421.58 L2108.15,426.99 L2117.69,432.37 L2127.23,437.70 L2136.78,443.00 L2146.32,448.26 L2155.86,453.48 L2165.41,458.67 L2174.95,463.82 L2184.49,468.93 L2194.03,474.00 L2203.57,479.04 L2213.12,484.05 L2222.66,489.02 L2232.20,493.95 L2241.74,498.85 L2251.29,503.72 L2260.83,508.55 L2270.37,513.35 L2279.91,518.11 L2289.46,522.85 L2299.00,527.55 L2308.54,532.22 L2318.09,536.85 L2327.63,541.46 L2337.17,546.03 L2346.71,550.58 L2356.26,555.09 L2365.80,559.58 L2375.34,564.03 L2384.88,568.45 L2394.43,572.85 L2403.97,577.22 L2413.51,581.55 L2423.05,585.86 L2432.59,590.14 L2442.14,594.40 L2451.68,598.62 L2461.22,602.82 L2470.76,606.99 L2480.31,611.14 L2489.85,615.26 L2499.39,619.35 L2508.93,623.41 L2518.48,627.45 L2528.02,631.47 L2537.56,635.46 L2547.11,639.42 L2556.65,643.36 L2566.19,647.28 L2575.73,651.17 L2585.28,655.03 L2594.82,658.88 L2604.36,662.69 L2613.90,666.49 L2623.44,670.26 L2632.99,674.01 L2642.53,677.74 L2652.07,681.44 L2661.61,685.12 L2671.16,688.78 L2680.70,692.42 L2690.24,696.03 L2699.79,699.62 L2709.33,703.20 L2718.87,706.75 L2728.41,710.28 L2737.95,713.79 L2747.50,717.27 L2757.04,720.74 L2766.58,724.19 L2776.12,727.61 L2785.67,731.02 L2795.21,734.41 L2804.75,737.78 L2814.30,741.12 L2823.84,744.45 L2833.38,747.76 L2842.92,751.05 L2852.46,754.32 L2862.01,757.58 L2871.55,760.81 L2881.09,764.03 L2890.64,767.23 L2900.18,770.41 L2909.72,773.57 L2919.26,776.71 L2928.81,779.84 L2938.35,782.95 L2947.89,786.04 L2957.43,789.12 L2966.97,792.18 L2976.52,795.22 L2986.06,798.24 L2995.60,801.25 L3005.14,804.24 L3014.69,807.21 L3024.23,810.17 L3033.77,813.12 L3043.31,816.04 L3052.86,818.95 L3062.40,821.85 L3071.94,824.73 L3081.49,827.59 L3091.03,830.44 L3100.57,833.28 L3110.11,836.10 L3119.65,838.90 L3129.20,841.69 L3138.74,844.46 L3148.28,847.22 L3157.82,849.97 L3167.37,852.70 L3176.91,855.42 L3186.45,858.12 L3195.99,860.81 L3205.54,863.48 L3215.08,866.14 L3224.62,868.79 L3234.16,871.42 L3243.71,874.04 L3253.25,876.65 L3262.79,879.24 L3272.34,881.82 L3281.88,884.39 L3291.42,886.94 L3300.96,889.48 L3310.51,892.01 L3320.05,894.53 L3329.59,897.03 L3339.13,899.52 L3348.68,902.00 L3358.22,904.47 L3367.76,906.92 L3377.30,909.36 L3386.84,911.79 L3396.39,914.21 L3405.93,916.61 L3415.47,919.01 L3425.01,921.39 L3434.56,923.76 L3444.10,926.12" stroke="#000000" stroke-width="6.00" stroke-linecap="square" fill="none"/>
<path d="M1917.30,324.23 L1926.84,330.31 L1936.38,336.35 L1945.93,342.34 L1955.47,348.29 L1965.01,354.19 L1974.56,360.05 L1984.10,365.87 L1993.64,371.64 L2003.18,377.37 L2012.72,383.06 L2022.27,388.71 L2031.81,394.31 L2041.35,399.88 L2050.89,405.40 L2060.44,410.89 L2069.98,416.33 L2079.52,421.74 L2089.07,427.10 L2098.61,432.43 L2108.15,437.72 L2117.69,442.97 L2127.23,448.19 L2136.78,453.37 L2146.32,458.51 L2155.86,463.62 L2165.41,468.69 L2174.95,473.72 L2184.49,478.73 L2194.03,483.69 L2203.57,488.62 L2213.12,493.52 L2222.66,498.39 L2232.20,503.22 L2241.74,508.02 L2251.29,512.78 L2260.83,517.52 L2270.37,522.22 L2279.91,526.89 L2289.46,531.53 L2299.00,536.14 L2308.54,540.71 L2318.09,545.26 L2327.63,549.78 L2337.17,554.27 L2346.71,558.72 L2356.26,563.15 L2365.80,567.55 L2375.34,571.92 L2384.88,576.27 L2394.43,580.58 L2403.97,584.87 L2413.51,589.13 L2423.05,593.36 L2432.59,597.56 L2442.14,601.74 L2451.68,605.89 L2461.22,610.02 L2470.76,614.12 L2480.31,618.19 L2489.85,622.24 L2499.39,626.26 L2508.93,630.26 L2518.48,634.23 L2528.02,638.18 L2537.56,642.10 L2547.11,646.00 L2556.65,649.88 L2566.19,653.73 L2575.73,657.56 L2585.28,661.36 L2594.82,665.14 L2604.36,668.90 L2613.90,672.64 L2623.44,676.35 L2632.99,680.04 L2642.53,683.71 L2652.07,687.36 L2661.61,690.99 L2671.16,694.59 L2680.70,698.17 L2690.24,701.73 L2699.79,705.27 L2709.33,708.79 L2718.87,712.29 L2728.41,715.77 L2737.95,719.23 L2747.50,722.67 L2757.04,726.08 L2766.58,729.48 L2776.12,732.86 L2785.67,736.22 L2795.21,739.56 L2804.75,742.88 L2814.30,746.19 L2823.84,749.47 L2833.38,752.73 L2842.92,755.98 L2852.46,759.21 L2862.01,762.42 L2871.55,765.61 L2881.09,768.78 L2890.64,771.94 L2900.18,775.08 L2909.72,778.20 L2919.26,781.31 L2928.81,784.39 L2938.35,787.46 L2947.89,790.52 L2957.43,793.55 L2966.97,796.57 L2976.52,799.58 L2986.06,802.56 L2995.60,805.54 L3005.14,808.49 L3014.69,811.43 L3024.23,814.35 L3033.77,817.26 L3043.31,820.15 L3052.86,823.03 L3062.40,825.89 L3071.94,828.74 L3081.49,831.57 L3091.03,834.39 L3100.57,837.19 L3110.11,839.97 L3119.65,842.75 L3129.20,845.50 L3138.74,848.25 L3148.28,850.98 L3157.82,853.69 L3167.37,856.39 L3176.91,859.08 L3186.45,861.75 L3195.99,864.41 L3205.54,867.06 L3215.08,869.69 L3224.62,872.31 L3234.16,874.91 L3243.71,877.51 L3253.25,880.09 L3262.79,882.65 L3272.34,885.21 L3281.88,887.75 L3291.42,890.27 L3300.96,892.79 L3310.51,895.29 L3320.05,897.78 L3329.59,900.26 L3339.13,902.73 L3348.68,905.18 L3358.22,907.62 L3367.76,910.05 L3377.30,912.47 L3386.84,914.87 L3396.39,917.27 L3405.93,919.65 L3415.47,922.02 L3425.01,924.38 L3434.56,926.73 L3444.10,929.06" stroke="#f80000" stroke-width="6.00" stroke-dasharray="14.0 14.2" fill="none"/>
<path d="M1917.30,337.87 L1926.84,343.78 L1936.38,349.66 L1945.93,355.48 L1955.47,361.27 L1965.01,367.02 L1974.56,372.72 L1984.10,378.38 L1993.64,384.01 L2003.18,389.59 L2012.72,395.13 L2022.27,400.63 L2031.81,406.10 L2041.35,411.52 L2050.89,416.91 L2060.44,422.26 L2069.98,427.57 L2079.52,432.84 L2089.07,438.08 L2098.61,443.28 L2108.15,448.45 L2117.69,453.58 L2127.23,458.67 L2136.78,463.73 L2146.32,468.76 L2155.86,473.75 L2165.41,478.71 L2174.95,483.63 L2184.49,488.52 L2194.03,493.38 L2203.57,498.20 L2213.12,503.00 L2222.66,507.76 L2232.20,512.49 L2241.74,517.18 L2251.29,521.85 L2260.83,526.49 L2270.37,531.09 L2279.91,535.67 L2289.46,540.21 L2299.00,544.73 L2308.54,549.21 L2318.09,553.67 L2327.63,558.10 L2337.17,562.50 L2346.71,566.87 L2356.26,571.21 L2365.80,575.53 L2375.34,579.82 L2384.88,584.08 L2394.43,588.31 L2403.97,592.52 L2413.51,596.70 L2423.05,600.86 L2432.59,604.99 L2442.14,609.09 L2451.68,613.17 L2461.22,617.22 L2470.76,621.24 L2480.31,625.25 L2489.85,629.22 L2499.39,633.18 L2508.93,637.11 L2518.48,641.01 L2528.02,644.89 L2537.56,648.75 L2547.11,652.59 L2556.65,656.40 L2566.19,660.18 L2575.73,663.95 L2585.28,667.69 L2594.82,671.41 L2604.36,675.11 L2613.90,678.79 L2623.44,682.44 L2632.99,686.08 L2642.53,689.69 L2652.07,693.28 L2661.61,696.85 L2671.16,700.40 L2680.70,703.93 L2690.24,707.43 L2699.79,710.92 L2709.33,714.39 L2718.87,717.84 L2728.41,721.26 L2737.95,724.67 L2747.50,728.06 L2757.04,731.43 L2766.58,734.78 L2776.12,738.11 L2785.67,741.42 L2795.21,744.72 L2804.75,747.99 L2814.30,751.25 L2823.84,754.49 L2833.38,757.71 L2842.92,760.91 L2852.46,764.09 L2862.01,767.26 L2871.55,770.41 L2881.09,773.54 L2890.64,776.66 L2900.18,779.75 L2909.72,782.83 L2919.26,785.90 L2928.81,788.95 L2938.35,791.98 L2947.89,794.99 L2957.43,797.99 L2966.97,800.97 L2976.52,803.94 L2986.06,806.89 L2995.60,809.82 L3005.14,812.74 L3014.69,815.65 L3024.23,818.53 L3033.77,821.41 L3043.31,824.26 L3052.86,827.11 L3062.40,829.93 L3071.94,832.75 L3081.49,835.54 L3091.03,838.33 L3100.57,841.10 L3110.11,843.85 L3119.65,846.59 L3129.20,849.32 L3138.74,852.03 L3148.28,854.73 L3157.82,857.41 L3167.37,860.09 L3176.91,862.74 L3186.45,865.39 L3195.99,868.02 L3205.54,870.63 L3215.08,873.24 L3224.62,875.83 L3234.16,878.41 L3243.71,880.97 L3253.25,883.52 L3262.79,886.06 L3272.34,888.59 L3281.88,891.10 L3291.42,893.60 L3300.96,896.09 L3310.51,898.57 L3320.05,901.04 L3329.59,903.49 L3339.13,905.93 L3348.68,908.36 L3358.22,910.78 L3367.76,913.18 L3377.30,915.57 L3386.84,917.96 L3396.39,920.33 L3405.93,922.69 L3415.47,925.03 L3425.01,927.37 L3434.56,929.70 L3444.10,932.01" stroke="#0000f0" stroke-width="6.00" stroke-dasharray="3.6 13.8 13.9 13.7" fill="none"/>
<path d="M1917.30,351.51 L1926.84,357.26 L1936.38,362.96 L1945.93,368.63 L1955.47,374.25 L1965.01,379.84 L1974.56,385.39 L1984.10,390.90 L1993.64,396.37 L2003.18,401.80 L2012.72,407.20 L2022.27,412.56 L2031.81,417.88 L2041.35,423.17 L2050.89,428.42 L2060.44,433.63 L2069.98,438.81 L2079.52,443.95 L2089.07,449.06 L2098.61,454.14 L2108.15,459.18 L2117.69,464.19 L2127.23,469.16 L2136.78,474.10 L2146.32,479.01 L2155.86,483.88 L2165.41,488.73 L2174.95,493.54 L2184.49,498.32 L2194.03,503.07 L2203.57,507.79 L2213.12,512.47 L2222.66,517.13 L2232.20,521.76 L2241.74,526.35 L2251.29,530.92 L2260.83,535.46 L2270.37,539.96 L2279.91,544.44 L2289.46,548.90 L2299.00,553.32 L2308.54,557.71 L2318.09,562.08 L2327.63,566.42 L2337.17,570.73 L2346.71,575.02 L2356.26,579.28 L2365.80,583.51 L2375.34,587.71 L2384.88,591.89 L2394.43,596.05 L2403.97,600.17 L2413.51,604.28 L2423.05,608.35 L2432.59,612.41 L2442.14,616.43 L2451.68,620.44 L2461.22,624.42 L2470.76,628.37 L2480.31,632.30 L2489.85,636.21 L2499.39,640.09 L2508.93,643.95 L2518.48,647.79 L2528.02,651.61 L2537.56,655.40 L2547.11,659.17 L2556.65,662.91 L2566.19,666.64 L2575.73,670.34 L2585.28,674.02 L2594.82,677.68 L2604.36,681.32 L2613.90,684.94 L2623.44,688.54 L2632.99,692.11 L2642.53,695.67 L2652.07,699.20 L2661.61,702.71 L2671.16,706.21 L2680.70,709.68 L2690.24,713.14 L2699.79,716.57 L2709.33,719.99 L2718.87,723.38 L2728.41,726.76 L2737.95,730.11 L2747.50,733.45 L2757.04,736.77 L2766.58,740.07 L2776.12,743.36 L2785.67,746.62 L2795.21,749.87 L2804.75,753.10 L2814.30,756.31 L2823.84,759.50 L2833.38,762.68 L2842.92,765.83 L2852.46,768.98 L2862.01,772.10 L2871.55,775.21 L2881.09,778.30 L2890.64,781.37 L2900.18,784.43 L2909.72,787.47 L2919.26,790.49 L2928.81,793.50 L2938.35,796.49 L2947.89,799.47 L2957.43,802.43 L2966.97,805.37 L2976.52,808.30 L2986.06,811.21 L2995.60,814.11 L3005.14,816.99 L3014.69,819.86 L3024.23,822.71 L3033.77,825.55 L3043.31,828.37 L3052.86,831.18 L3062.40,833.98 L3071.94,836.75 L3081.49,839.52 L3091.03,842.27 L3100.57,845.01 L3110.11,847.73 L3119.65,850.44 L3129.20,853.13 L3138.74,855.82 L3148.28,858.48 L3157.82,861.14 L3167.37,863.78 L3176.91,866.41 L3186.45,869.02 L3195.99,871.62 L3205.54,874.21 L3215.08,876.79 L3224.62,879.35 L3234.16,881.90 L3243.71,884.44 L3253.25,886.96 L3262.79,889.47 L3272.34,891.97 L3281.88,894.46 L3291.42,896.94 L3300.96,899.40 L3310.51,901.85 L3320.05,904.29 L3329.59,906.72 L3339.13,909.13 L3348.68,911.54 L3358.22,913.93 L3367.76,916.31 L3377.30,918.68 L3386.84,921.04 L3396.39,923.39 L3405.93,925.72 L3415.47,928.05 L3425.01,930.36 L3434.56,932.67 L3444.10,934.96" stroke="#ff8000" stroke-width="6.00" stroke-dasharray="35 44.9" fill="none"/>
<path d="M1917.30,1070.80v-13.50M1917.30,88.60v13.50M1993.64,1070.80v-8.30M1993.64,88.60v8.30M2069.98,1070.80v-8.30M2069.98,88.60v8.30M2146.32,1070.80v-8.30M2146.32,88.60v8.30M2222.66,1070.80v-8.30M2222.66,88.60v8.30M2299.00,1070.80v-13.50M2299.00,88.60v13.50M2375.34,1070.80v-8.30M2375.34,88.60v8.30M2451.68,1070.80v-8.30M2451.68,88.60v8.30M2528.02,1070.80v-8.30M2528.02,88.60v8.30M2604.36,1070.80v-8.30M2604.36,88.60v8.30M2680.70,1070.80v-13.50M2680.70,88.60v13.50M2757.04,1070.80v-8.30M2757.04,88.60v8.30M2833.38,1070.80v-8.30M2833.38,88.60v8.30M2909.72,1070.80v-8.30M2909.72,88.60v8.30M2986.06,1070.80v-8.30M2986.06,88.60v8.30M3062.40,1070.80v-13.50M3062.40,88.60v13.50M3138.74,1070.80v-8.30M3138.74,88.60v8.30M3215.08,1070.80v-8.30M3215.08,88.60v8.30M3291.42,1070.80v-8.30M3291.42,88.60v8.30M3367.76,1070.80v-8.30M3367.76,88.60v8.30M3444.10,1070.80v-13.50M3444.10,88.60v13.50M1886.00,1070.80h13.50M3475.50,1070.80h-13.50M1886.00,1038.06h8.30M3475.50,1038.06h-8.30M1886.00,1005.32h8.30M3475.50,1005.32h-8.30M1886.00,972.58h8.30M3475.50,972.58h-8.30M1886.00,939.84h8.30M3475.50,939.84h-8.30M1886.00,907.10h13.50M3475.50,907.10h-13.50M1886.00,874.36h8.30M3475.50,874.36h-8.30M1886.00,841.62h8.30M3475.50,841.62h-8.30M1886.00,808.88h8.30M3475.50,808.88h-8.30M1886.00,776.14h8.30M3475.50,776.14h-8.30M1886.00,743.40h13.50M3475.50,743.40h-13.50M1886.00,710.66h8.30M3475.50,710.66h-8.30M1886.00,677.92h8.30M3475.50,677.92h-8.30M1886.00,645.18h8.30M3475.50,645.18h-8.30M1886.00,612.44h8.30M3475.50,612.44h-8.30M1886.00,579.70h13.50M3475.50,579.70h-13.50M1886.00,546.96h8.30M3475.50,546.96h-8.30M1886.00,514.22h8.30M3475.50,514.22h-8.30M1886.00,481.48h8.30M3475.50,481.48h-8.30M1886.00,448.74h8.30M3475.50,448.74h-8.30M1886.00,416.00h13.50M3475.50,416.00h-13.50M1886.00,383.26h8.30M3475.50,383.26h-8.30M1886.00,350.52h8.30M3475.50,350.52h-8.30M1886.00,317.78h8.30M3475.50,317.78h-8.30M1886.00,285.04h8.30M3475.50,285.04h-8.30M1886.00,252.30h13.50M3475.50,252.30h-13.50M1886.00,219.56h8.30M3475.50,219.56h-8.30M1886.00,186.82h8.30M3475.50,186.82h-8.30M1886.00,154.08h8.30M3475.50,154.08h-8.30M1886.00,121.34h8.30M3475.50,121.34h-8.30M1886.00,88.60h13.50M3475.50,88.60h-13.50" stroke="#666666" stroke-width="1.70" fill="none"/>
<rect x="1886.00" y="88.60" width="1589.50" height="982.20" stroke="#666666" stroke-width="2.00" fill="none"/>
<g transform="translate(0,1100.15) scale(1,1.035) translate(0,-1100.15)">
<text x="1907.57" y="1112.68" font-size="35" fill="#666666">6</text>
</g>
<g transform="translate(0,1100.15) scale(1,1.035) translate(0,-1100.15)">
<text x="2289.27" y="1112.68" font-size="35" fill="#666666">7</text>
</g>
<g transform="translate(0,1100.15) scale(1,1.035) translate(0,-1100.15)">
<text x="2670.97" y="1112.68" font-size="35" fill="#666666">8</text>
</g>
<g transform="translate(0,1100.15) scale(1,1.035) translate(0,-1100.15)">
<text x="3052.67" y="1112.68" font-size="35" fill="#666666">9</text>
</g>
<g transform="translate(0,1100.15) scale(1,1.035) translate(0,-1100.15)">
<path transform="translate(3424.63,1112.68) scale(0.01709,-0.01709)" d="M763,0 L583,0 L583,1147 Q518,1085 412.5,1023 Q307,961 223,930 L223,1104 Q374,1175 487,1276 Q600,1377 647,1472 L763,1472 Z" fill="#666666"/>
<text x="3444.10" y="1112.68" font-size="35" fill="#666666">0</text>
</g>
<g transform="translate(0,1070.80) scale(1,1.035) translate(0,-1070.80)">
<text x="1826.83" y="1083.33" font-size="35" fill="#666666">0.5</text>
</g>
<g transform="translate(0,907.10) scale(1,1.035) translate(0,-907.10)">
<text x="1826.83" y="919.63" font-size="35" fill="#666666">0.6</text>
</g>
<g transform="translate(0,743.40) scale(1,1.035) translate(0,-743.40)">
<text x="1826.83" y="755.93" font-size="35" fill="#666666">0.7</text>
</g>
<g transform="translate(0,579.70) scale(1,1.035) translate(0,-579.70)">
<text x="1826.83" y="592.23" font-size="35" fill="#666666">0.8</text>
</g>
<g transform="translate(0,416.00) scale(1,1.035) translate(0,-416.00)">
<text x="1826.83" y="428.53" font-size="35" fill="#666666">0.9</text>
</g>
<g transform="translate(0,252.30) scale(1,1.035) translate(0,-252.30)">
<path transform="translate(1826.83,264.83) scale(0.01709,-0.01709)" d="M763,0 L583,0 L583,1147 Q518,1085 412.5,1023 Q307,961 223,930 L223,1104 Q374,1175 487,1276 Q600,1377 647,1472 L763,1472 Z" fill="#666666"/>
<text x="1846.29" y="264.83" font-size="35" fill="#666666">.0</text>
</g>
<g transform="translate(0,88.60) scale(1,1.035) translate(0,-88.60)">
<path transform="translate(1826.83,101.13) scale(0.01709,-0.01709)" d="M763,0 L583,0 L583,1147 Q518,1085 412.5,1023 Q307,961 223,930 L223,1104 Q374,1175 487,1276 Q600,1377 647,1472 L763,1472 Z" fill="#666666"/>
<text x="1846.29" y="101.13" font-size="35" fill="#666666">.</text>
<path transform="translate(1856.03,101.13) scale(0.01709,-0.01709)" d="M763,0 L583,0 L583,1147 Q518,1085 412.5,1023 Q307,961 223,930 L223,1104 Q374,1175 487,1276 Q600,1377 647,1472 L763,1472 Z" fill="#666666"/>
</g>
</g>
<rect x="2707.00" y="152.00" width="701.60" height="432.60" fill="#fff"/>
<path d="M2721.10,254.68 L2732.33,258.36 L2743.56,262.04 L2754.79,265.70 L2766.02,269.35 L2777.25,273.00 L2788.48,276.63 L2799.71,280.26 L2810.94,283.87 L2822.17,287.48 L2833.40,291.07 L2844.63,294.66 L2855.86,298.24 L2867.09,301.81 L2878.32,305.37 L2889.55,308.92 L2900.78,312.46 L2912.01,315.99 L2923.24,319.52 L2934.47,323.03 L2945.70,326.54 L2956.93,330.03 L2968.16,333.52 L2979.39,337.00 L2990.62,340.47 L3001.85,343.93 L3013.08,347.38 L3024.31,350.83 L3035.54,354.26 L3046.77,357.69 L3058.00,361.11 L3069.23,364.51 L3080.46,367.92 L3091.69,371.31 L3102.92,374.69 L3114.15,378.06 L3125.38,381.43 L3136.61,384.79 L3147.84,388.14 L3159.07,391.48 L3170.30,394.81 L3181.53,398.14 L3192.76,401.45 L3203.99,404.76 L3215.22,408.06 L3226.45,411.35 L3237.68,414.64 L3248.91,417.91 L3260.14,421.18 L3271.37,424.44 L3282.60,427.69 L3293.83,430.93 L3305.06,434.17 L3316.29,437.39 L3327.52,440.61 L3338.75,443.82 L3349.98,447.03 L3361.21,450.22 L3372.44,453.41 L3383.67,456.59 L3394.90,459.76" stroke="#000000" stroke-width="6.00" stroke-linecap="square" fill="none"/>
<path d="M2721.10,278.72 L2732.33,282.30 L2743.56,285.87 L2754.79,289.44 L2766.02,292.99 L2777.25,296.54 L2788.48,300.07 L2799.71,303.60 L2810.94,307.12 L2822.17,310.63 L2833.40,314.13 L2844.63,317.63 L2855.86,321.11 L2867.09,324.59 L2878.32,328.05 L2889.55,331.51 L2900.78,334.96 L2912.01,338.40 L2923.24,341.84 L2934.47,345.26 L2945.70,348.67 L2956.93,352.08 L2968.16,355.48 L2979.39,358.87 L2990.62,362.25 L3001.85,365.63 L3013.08,368.99 L3024.31,372.35 L3035.54,375.70 L3046.77,379.04 L3058.00,382.37 L3069.23,385.69 L3080.46,389.01 L3091.69,392.32 L3102.92,395.62 L3114.15,398.91 L3125.38,402.19 L3136.61,405.47 L3147.84,408.74 L3159.07,412.00 L3170.30,415.25 L3181.53,418.49 L3192.76,421.73 L3203.99,424.96 L3215.22,428.18 L3226.45,431.39 L3237.68,434.59 L3248.91,437.79 L3260.14,440.98 L3271.37,444.16 L3282.60,447.34 L3293.83,450.50 L3305.06,453.66 L3316.29,456.81 L3327.52,459.96 L3338.75,463.10 L3349.98,466.22 L3361.21,469.35 L3372.44,472.46 L3383.67,475.57 L3394.90,478.67" stroke="#f80000" stroke-width="6.00" stroke-dasharray="14.0 14.2" fill="none"/>
<path d="M2721.10,302.75 L2732.33,306.23 L2743.56,309.71 L2754.79,313.17 L2766.02,316.63 L2777.25,320.08 L2788.48,323.52 L2799.71,326.95 L2810.94,330.37 L2822.17,333.79 L2833.40,337.19 L2844.63,340.59 L2855.86,343.98 L2867.09,347.36 L2878.32,350.74 L2889.55,354.10 L2900.78,357.46 L2912.01,360.81 L2923.24,364.15 L2934.47,367.49 L2945.70,370.81 L2956.93,374.13 L2968.16,377.44 L2979.39,380.74 L2990.62,384.03 L3001.85,387.32 L3013.08,390.60 L3024.31,393.87 L3035.54,397.13 L3046.77,400.39 L3058.00,403.63 L3069.23,406.87 L3080.46,410.10 L3091.69,413.33 L3102.92,416.54 L3114.15,419.75 L3125.38,422.95 L3136.61,426.15 L3147.84,429.33 L3159.07,432.51 L3170.30,435.68 L3181.53,438.85 L3192.76,442.00 L3203.99,445.15 L3215.22,448.29 L3226.45,451.43 L3237.68,454.55 L3248.91,457.67 L3260.14,460.78 L3271.37,463.89 L3282.60,466.99 L3293.83,470.08 L3305.06,473.16 L3316.29,476.24 L3327.52,479.30 L3338.75,482.37 L3349.98,485.42 L3361.21,488.47 L3372.44,491.51 L3383.67,494.54 L3394.90,497.57" stroke="#0000f0" stroke-width="6.00" stroke-dasharray="3.6 13.8 13.9 13.7" fill="none"/>
<path d="M2721.10,326.78 L2732.33,330.16 L2743.56,333.54 L2754.79,336.91 L2766.02,340.26 L2777.25,343.62 L2788.48,346.96 L2799.71,350.29 L2810.94,353.62 L2822.17,356.94 L2833.40,360.25 L2844.63,363.56 L2855.86,366.85 L2867.09,370.14 L2878.32,373.42 L2889.55,376.70 L2900.78,379.96 L2912.01,383.22 L2923.24,386.47 L2934.47,389.71 L2945.70,392.95 L2956.93,396.18 L2968.16,399.40 L2979.39,402.61 L2990.62,405.82 L3001.85,409.01 L3013.08,412.21 L3024.31,415.39 L3035.54,418.56 L3046.77,421.73 L3058.00,424.90 L3069.23,428.05 L3080.46,431.20 L3091.69,434.34 L3102.92,437.47 L3114.15,440.60 L3125.38,443.71 L3136.61,446.83 L3147.84,449.93 L3159.07,453.03 L3170.30,456.12 L3181.53,459.20 L3192.76,462.28 L3203.99,465.34 L3215.22,468.41 L3226.45,471.46 L3237.68,474.51 L3248.91,477.55 L3260.14,480.59 L3271.37,483.61 L3282.60,486.63 L3293.83,489.65 L3305.06,492.66 L3316.29,495.66 L3327.52,498.65 L3338.75,501.64 L3349.98,504.62 L3361.21,507.59 L3372.44,510.56 L3383.67,513.52 L3394.90,516.47" stroke="#ff8000" stroke-width="6.00" stroke-dasharray="35 44.9" fill="none"/>
<path d="M2721.10,584.60v-7.20M2721.10,152.00v7.20M2748.05,584.60v-4.20M2748.05,152.00v4.20M2775.00,584.60v-4.20M2775.00,152.00v4.20M2801.96,584.60v-4.20M2801.96,152.00v4.20M2828.91,584.60v-4.20M2828.91,152.00v4.20M2855.86,584.60v-7.20M2855.86,152.00v7.20M2882.81,584.60v-4.20M2882.81,152.00v4.20M2909.76,584.60v-4.20M2909.76,152.00v4.20M2936.72,584.60v-4.20M2936.72,152.00v4.20M2963.67,584.60v-4.20M2963.67,152.00v4.20M2990.62,584.60v-7.20M2990.62,152.00v7.20M3017.57,584.60v-4.20M3017.57,152.00v4.20M3044.52,584.60v-4.20M3044.52,152.00v4.20M3071.48,584.60v-4.20M3071.48,152.00v4.20M3098.43,584.60v-4.20M3098.43,152.00v4.20M3125.38,584.60v-7.20M3125.38,152.00v7.20M3152.33,584.60v-4.20M3152.33,152.00v4.20M3179.28,584.60v-4.20M3179.28,152.00v4.20M3206.24,584.60v-4.20M3206.24,152.00v4.20M3233.19,584.60v-4.20M3233.19,152.00v4.20M3260.14,584.60v-7.20M3260.14,152.00v7.20M3287.09,584.60v-4.20M3287.09,152.00v4.20M3314.04,584.60v-4.20M3314.04,152.00v4.20M3341.00,584.60v-4.20M3341.00,152.00v4.20M3367.95,584.60v-4.20M3367.95,152.00v4.20M3394.90,584.60v-7.20M3394.90,152.00v7.20M2707.00,584.60h4.20M3408.60,584.60h-4.20M2707.00,570.18h4.20M3408.60,570.18h-4.20M2707.00,555.76h7.20M3408.60,555.76h-7.20M2707.00,541.34h4.20M3408.60,541.34h-4.20M2707.00,526.92h4.20M3408.60,526.92h-4.20M2707.00,512.50h4.20M3408.60,512.50h-4.20M2707.00,498.08h7.20M3408.60,498.08h-7.20M2707.00,483.66h4.20M3408.60,483.66h-4.20M2707.00,469.24h4.20M3408.60,469.24h-4.20M2707.00,454.82h4.20M3408.60,454.82h-4.20M2707.00,440.40h7.20M3408.60,440.40h-7.20M2707.00,425.98h4.20M3408.60,425.98h-4.20M2707.00,411.56h4.20M3408.60,411.56h-4.20M2707.00,397.14h4.20M3408.60,397.14h-4.20M2707.00,382.72h7.20M3408.60,382.72h-7.20M2707.00,368.30h4.20M3408.60,368.30h-4.20M2707.00,353.88h4.20M3408.60,353.88h-4.20M2707.00,339.46h4.20M3408.60,339.46h-4.20M2707.00,325.04h7.20M3408.60,325.04h-7.20M2707.00,310.62h4.20M3408.60,310.62h-4.20M2707.00,296.20h4.20M3408.60,296.20h-4.20M2707.00,281.78h4.20M3408.60,281.78h-4.20M2707.00,267.36h7.20M3408.60,267.36h-7.20M2707.00,252.94h4.20M3408.60,252.94h-4.20M2707.00,238.52h4.20M3408.60,238.52h-4.20M2707.00,224.10h4.20M3408.60,224.10h-4.20M2707.00,209.68h7.20M3408.60,209.68h-7.20M2707.00,195.26h4.20M3408.60,195.26h-4.20M2707.00,180.84h4.20M3408.60,180.84h-4.20M2707.00,166.42h4.20M3408.60,166.42h-4.20M2707.00,152.00h7.20M3408.60,152.00h-7.20" stroke="#666666" stroke-width="1.60" fill="none"/>
<rect x="2707.00" y="152.00" width="701.60" height="432.60" stroke="#666666" stroke-width="2.00" fill="none"/>
<g transform="translate(0,614.45) scale(1,1.035) translate(0,-614.45)">
<text x="2696.76" y="626.98" font-size="35" fill="#666666">6.0</text>
</g>
<g transform="translate(0,614.45) scale(1,1.035) translate(0,-614.45)">
<text x="2831.52" y="626.98" font-size="35" fill="#666666">6.</text>
<path transform="translate(2860.73,626.98) scale(0.01709,-0.01709)" d="M763,0 L583,0 L583,1147 Q518,1085 412.5,1023 Q307,961 223,930 L223,1104 Q374,1175 487,1276 Q600,1377 647,1472 L763,1472 Z" fill="#666666"/>
</g>
<g transform="translate(0,614.45) scale(1,1.035) translate(0,-614.45)">
<text x="2966.28" y="626.98" font-size="35" fill="#666666">6.2</text>
</g>
<g transform="translate(0,614.45) scale(1,1.035) translate(0,-614.45)">
<text x="3101.04" y="626.98" font-size="35" fill="#666666">6.3</text>
</g>
<g transform="translate(0,614.45) scale(1,1.035) translate(0,-614.45)">
<text x="3235.80" y="626.98" font-size="35" fill="#666666">6.4</text>
</g>
<g transform="translate(0,614.45) scale(1,1.035) translate(0,-614.45)">
<text x="3370.56" y="626.98" font-size="35" fill="#666666">6.5</text>
</g>
<g transform="translate(0,555.76) scale(1,1.035) translate(0,-555.76)">
<text x="2627.86" y="568.29" font-size="35" fill="#666666">0.86</text>
</g>
<g transform="translate(0,498.08) scale(1,1.035) translate(0,-498.08)">
<text x="2627.86" y="510.61" font-size="35" fill="#666666">0.88</text>
</g>
<g transform="translate(0,440.40) scale(1,1.035) translate(0,-440.40)">
<text x="2627.86" y="452.93" font-size="35" fill="#666666">0.90</text>
</g>
<g transform="translate(0,382.72) scale(1,1.035) translate(0,-382.72)">
<text x="2627.86" y="395.25" font-size="35" fill="#666666">0.92</text>
</g>
<g transform="translate(0,325.04) scale(1,1.035) translate(0,-325.04)">
<text x="2627.86" y="337.57" font-size="35" fill="#666666">0.94</text>
</g>
<g transform="translate(0,267.36) scale(1,1.035) translate(0,-267.36)">
<text x="2627.86" y="279.89" font-size="35" fill="#666666">0.96</text>
</g>
<g transform="translate(0,209.68) scale(1,1.035) translate(0,-209.68)">
<text x="2627.86" y="222.21" font-size="35" fill="#666666">0.98</text>
</g>
<g transform="translate(0,152.00) scale(1,1.035) translate(0,-152.00)">
<path transform="translate(2627.86,164.53) scale(0.01709,-0.01709)" d="M763,0 L583,0 L583,1147 Q518,1085 412.5,1023 Q307,961 223,930 L223,1104 Q374,1175 487,1276 Q600,1377 647,1472 L763,1472 Z" fill="#666666"/>
<text x="2647.33" y="164.53" font-size="35" fill="#666666">.00</text>
</g>
<path d="M2069.98,383.26L2585.86,294.76" stroke="#000" stroke-width="3.4" fill="none"/>
<path d="M2642.53,285.04 L2579.71,315.09 L2585.86,294.76 L2573.28,277.64 Z" fill="#000"/>
<path d="M1987.10,757.90h139" stroke="#000000" stroke-width="6.00" fill="none"/>
<text transform="translate(2147.10,771.80) scale(1,1.04)" font-size="41.5" fill="#000">Ω</text>
<path d="M2181.28,755.30h19.7v2.9h-19.7z M2181.28,764.20h19.7v2.9h-19.7z" fill="#000"/>
<text transform="translate(2203.21,771.80) scale(1,1.04)" font-size="41.5" fill="#000">0.2</text>
<path d="M1989.70,832.90h133" stroke="#f80000" stroke-width="6.00" stroke-dasharray="14.0 14.2" fill="none"/>
<text transform="translate(2147.10,846.80) scale(1,1.04)" font-size="41.5" fill="#000">Ω</text>
<path d="M2181.28,830.30h19.7v2.9h-19.7z M2181.28,839.20h19.7v2.9h-19.7z" fill="#000"/>
<text transform="translate(2203.21,846.80) scale(1,1.04)" font-size="41.5" fill="#000">0.4</text>
<path d="M1989.70,907.90h133" stroke="#0000f0" stroke-width="6.00" stroke-dasharray="3.6 13.8 13.9 13.7" fill="none"/>
<text transform="translate(2147.10,921.80) scale(1,1.04)" font-size="41.5" fill="#000">Ω</text>
<path d="M2181.28,905.30h19.7v2.9h-19.7z M2181.28,914.20h19.7v2.9h-19.7z" fill="#000"/>
<text transform="translate(2203.21,921.80) scale(1,1.04)" font-size="41.5" fill="#000">0.6</text>
<path d="M1989.70,982.90h133" stroke="#ff8000" stroke-width="6.00" stroke-dasharray="35 44.9" fill="none"/>
<text transform="translate(2147.10,996.80) scale(1,1.04)" font-size="41.5" fill="#000">Ω</text>
<path d="M2181.28,980.30h19.7v2.9h-19.7z M2181.28,989.20h19.7v2.9h-19.7z" fill="#000"/>
<text transform="translate(2203.21,996.80) scale(1,1.04)" font-size="41.5" fill="#000">0.8</text>
<text transform="translate(2410.44,44.90) scale(0.9600,1.015)" font-size="49" fill="#666666" font-weight="bold" font-style="italic">O</text>
<path d="M2429.50,31.20 L2445.20,42.90 L2441.90,48.30 L2426.30,36.20 z" fill="#666666"/>
<text transform="translate(2446.10,44.90) scale(1.0000,1.000)" font-size="46" fill="#666666" >/</text>
<text transform="translate(2460.66,44.90) scale(0.9805,1.015)" font-size="49" fill="#666666" font-weight="bold" font-style="italic">M</text>
<path d="M2518.40,40.40 h24.30 l1,-4.6 h-24.30 z M2521.00,29.30 h24.30 l1,-4.6 h-24.30 z" fill="#666666"/>
<text transform="translate(2560.90,44.90) scale(0.9987,1.015)" font-size="49" fill="#666666" font-weight="bold" font-style="italic">0.5,</text>
<path transform="translate(2660.90,44.90) scale(1.000,1)" d="M17.9,-23.7 C12.5,-19 6.5,-13 3.7,-8.5 C1.7,-5 3.2,-2.35 7.2,-2.35 C11.5,-2.35 15.3,-6.5 18.6,-12.5 L22.0,-18.8 C21,-14 19.2,-9 19.3,-5.8 C19.4,-3.2 21.5,-2.3 24.0,-2.3 C28.5,-2.3 33.5,-10 38.0,-24.1" fill="none" stroke="#666666" stroke-width="5.0" stroke-linejoin="round"/>
<text transform="translate(2695.45,53.00) scale(1.0000,1.015)" font-size="34.5" fill="#666666" font-weight="bold" font-style="italic">p</text>
<text transform="translate(2723.45,24.00) scale(0.8987,1.015)" font-size="34.5" fill="#666666" font-weight="bold" font-style="italic">2</text>
<text transform="translate(2741.80,44.90) scale(1.0000,1.000)" font-size="46" fill="#666666" >/</text>
<path transform="translate(2760.50,44.90) scale(0.975,1)" d="M17.9,-23.7 C12.5,-19 6.5,-13 3.7,-8.5 C1.7,-5 3.2,-2.35 7.2,-2.35 C11.5,-2.35 15.3,-6.5 18.6,-12.5 L22.0,-18.8 C21,-14 19.2,-9 19.3,-5.8 C19.4,-3.2 21.5,-2.3 24.0,-2.3 C28.5,-2.3 33.5,-10 38.0,-24.1" fill="none" stroke="#666666" stroke-width="5.0" stroke-linejoin="round"/>
<text transform="translate(2806.85,24.00) scale(0.8987,1.015)" font-size="34.5" fill="#666666" font-weight="bold" font-style="italic">2</text>
<path d="M2842.60,40.40 h23.60 l1,-4.6 h-23.60 z M2845.20,29.30 h23.60 l1,-4.6 h-23.60 z" fill="#666666"/>
<text transform="translate(2885.27,44.90) scale(0.9669,1.015)" font-size="49" fill="#666666" font-weight="bold" font-style="italic">0.5</text>
<text transform="translate(2639.36,1188.80) scale(0.9874,1.015)" font-size="49" fill="#666666" font-weight="bold" font-style="italic">b</text>
<text transform="translate(2667.50,1188.80) scale(1.0000,1.000)" font-size="46" fill="#666666" >/</text>
<text transform="translate(2682.06,1188.80) scale(0.9805,1.015)" font-size="49" fill="#666666" font-weight="bold" font-style="italic">M</text>
<g transform="translate(1792.40,622.90) rotate(-90)">
<g transform="translate(0.00,0.00)">
<path d="M21.00,-23.12 A14.00,10.60 -50.0 1 0 3.00,-1.68 A14.00,10.60 -50.0 1 0 21.00,-23.12 Z M19.22,-19.91 A10.00,4.70 -47.0 1 0 5.58,-5.29 A10.00,4.70 -47.0 1 0 19.22,-19.91 Z" fill="#666666" fill-rule="evenodd"/>
<path d="M33.9,-23.4 L18.6,-4.4" fill="none" stroke="#666666" stroke-width="5.0"/>
<path d="M20.5,-21.5 C23.2,-16 24.6,-9 25.7,-5.6 C26.3,-3.5 27.8,-2.5 30.4,-3.7" fill="none" stroke="#666666" stroke-width="4.8"/>
</g>
<text transform="translate(36.10,8.80) scale(1.0000,1.015)" font-size="34.5" fill="#666666" font-weight="bold" font-style="italic">uni</text>
<path d="M12,-30.3 L24.1,-41.6 L32.7,-30.3 L27.1,-30.3 L23.1,-35.0 L18.4,-30.3 Z" fill="#666666"/>
</g>
<g>
<path d="M1042.00,1505.32 L1051.54,1511.69 L1061.07,1518.02 L1070.61,1524.29 L1080.15,1530.51 L1089.69,1536.69 L1099.23,1542.82 L1108.76,1548.90 L1118.30,1554.94 L1127.84,1560.93 L1137.38,1566.88 L1146.91,1572.78 L1156.45,1578.64 L1165.99,1584.46 L1175.52,1590.23 L1185.06,1595.96 L1194.60,1601.64 L1204.14,1607.29 L1213.68,1612.89 L1223.21,1618.46 L1232.75,1623.98 L1242.29,1629.46 L1251.82,1634.91 L1261.36,1640.31 L1270.90,1645.68 L1280.44,1651.00 L1289.98,1656.29 L1299.51,1661.54 L1309.05,1666.76 L1318.59,1671.94 L1328.12,1677.08 L1337.66,1682.18 L1347.20,1687.25 L1356.74,1692.29 L1366.27,1697.29 L1375.81,1702.26 L1385.35,1707.19 L1394.89,1712.08 L1404.43,1716.95 L1413.96,1721.78 L1423.50,1726.58 L1433.04,1731.34 L1442.57,1736.08 L1452.11,1740.78 L1461.65,1745.45 L1471.19,1750.08 L1480.73,1754.69 L1490.26,1759.27 L1499.80,1763.82 L1509.34,1768.33 L1518.88,1772.82 L1528.41,1777.28 L1537.95,1781.71 L1547.49,1786.10 L1557.02,1790.47 L1566.56,1794.82 L1576.10,1799.13 L1585.64,1803.42 L1595.18,1807.68 L1604.71,1811.91 L1614.25,1816.11 L1623.79,1820.29 L1633.32,1824.44 L1642.86,1828.57 L1652.40,1832.67 L1661.94,1836.74 L1671.48,1840.79 L1681.01,1844.81 L1690.55,1848.81 L1700.09,1852.78 L1709.62,1856.73 L1719.16,1860.65 L1728.70,1864.55 L1738.24,1868.42 L1747.77,1872.28 L1757.31,1876.10 L1766.85,1879.91 L1776.39,1883.69 L1785.93,1887.45 L1795.46,1891.18 L1805.00,1894.90 L1814.54,1898.59 L1824.08,1902.26 L1833.61,1905.90 L1843.15,1909.53 L1852.69,1913.13 L1862.23,1916.72 L1871.76,1920.28 L1881.30,1923.82 L1890.84,1927.34 L1900.38,1930.84 L1909.91,1934.32 L1919.45,1937.77 L1928.99,1941.21 L1938.52,1944.63 L1948.06,1948.03 L1957.60,1951.41 L1967.14,1954.77 L1976.67,1958.11 L1986.21,1961.43 L1995.75,1964.73 L2005.29,1968.02 L2014.83,1971.28 L2024.36,1974.53 L2033.90,1977.76 L2043.44,1980.97 L2052.98,1984.16 L2062.51,1987.33 L2072.05,1990.49 L2081.59,1993.63 L2091.12,1996.75 L2100.66,1999.86 L2110.20,2002.94 L2119.74,2006.01 L2129.27,2009.07 L2138.81,2012.11 L2148.35,2015.13 L2157.89,2018.13 L2167.42,2021.12 L2176.96,2024.09 L2186.50,2027.04 L2196.04,2029.98 L2205.58,2032.91 L2215.11,2035.82 L2224.65,2038.71 L2234.19,2041.59 L2243.73,2044.45 L2253.26,2047.30 L2262.80,2050.13 L2272.34,2052.94 L2281.88,2055.75 L2291.41,2058.53 L2300.95,2061.31 L2310.49,2064.06 L2320.02,2066.81 L2329.56,2069.54 L2339.10,2072.25 L2348.64,2074.95 L2358.17,2077.64 L2367.71,2080.32 L2377.25,2082.98 L2386.79,2085.62 L2396.33,2088.26 L2405.86,2090.88 L2415.40,2093.48 L2424.94,2096.07 L2434.48,2098.65 L2444.01,2101.22 L2453.55,2103.78 L2463.09,2106.32 L2472.62,2108.84 L2482.16,2111.36 L2491.70,2113.86 L2501.24,2116.35 L2510.77,2118.83 L2520.31,2121.30 L2529.85,2123.75 L2539.39,2126.20 L2548.92,2128.63 L2558.46,2131.04 L2568.00,2133.45" stroke="#000000" stroke-width="6.00" stroke-linecap="square" fill="none"/>
<path d="M1042.00,1512.47 L1051.54,1518.78 L1061.07,1525.04 L1070.61,1531.26 L1080.15,1537.42 L1089.69,1543.54 L1099.23,1549.62 L1108.76,1555.65 L1118.30,1561.63 L1127.84,1567.57 L1137.38,1573.46 L1146.91,1579.31 L1156.45,1585.12 L1165.99,1590.88 L1175.52,1596.60 L1185.06,1602.28 L1194.60,1607.92 L1204.14,1613.52 L1213.68,1619.07 L1223.21,1624.59 L1232.75,1630.07 L1242.29,1635.50 L1251.82,1640.90 L1261.36,1646.26 L1270.90,1651.58 L1280.44,1656.86 L1289.98,1662.11 L1299.51,1667.32 L1309.05,1672.49 L1318.59,1677.62 L1328.12,1682.72 L1337.66,1687.79 L1347.20,1692.82 L1356.74,1697.81 L1366.27,1702.77 L1375.81,1707.70 L1385.35,1712.59 L1394.89,1717.45 L1404.43,1722.27 L1413.96,1727.06 L1423.50,1731.82 L1433.04,1736.55 L1442.57,1741.25 L1452.11,1745.91 L1461.65,1750.55 L1471.19,1755.15 L1480.73,1759.72 L1490.26,1764.26 L1499.80,1768.78 L1509.34,1773.26 L1518.88,1777.71 L1528.41,1782.14 L1537.95,1786.53 L1547.49,1790.90 L1557.02,1795.24 L1566.56,1799.55 L1576.10,1803.83 L1585.64,1808.08 L1595.18,1812.31 L1604.71,1816.51 L1614.25,1820.68 L1623.79,1824.83 L1633.32,1828.95 L1642.86,1833.05 L1652.40,1837.12 L1661.94,1841.16 L1671.48,1845.18 L1681.01,1849.17 L1690.55,1853.14 L1700.09,1857.09 L1709.62,1861.01 L1719.16,1864.90 L1728.70,1868.78 L1738.24,1872.62 L1747.77,1876.45 L1757.31,1880.25 L1766.85,1884.03 L1776.39,1887.78 L1785.93,1891.52 L1795.46,1895.23 L1805.00,1898.92 L1814.54,1902.58 L1824.08,1906.23 L1833.61,1909.85 L1843.15,1913.45 L1852.69,1917.03 L1862.23,1920.59 L1871.76,1924.13 L1881.30,1927.64 L1890.84,1931.14 L1900.38,1934.62 L1909.91,1938.07 L1919.45,1941.51 L1928.99,1944.92 L1938.52,1948.32 L1948.06,1951.70 L1957.60,1955.05 L1967.14,1958.39 L1976.67,1961.71 L1986.21,1965.01 L1995.75,1968.29 L2005.29,1971.55 L2014.83,1974.80 L2024.36,1978.03 L2033.90,1981.23 L2043.44,1984.42 L2052.98,1987.60 L2062.51,1990.75 L2072.05,1993.89 L2081.59,1997.01 L2091.12,2000.11 L2100.66,2003.20 L2110.20,2006.26 L2119.74,2009.32 L2129.27,2012.35 L2138.81,2015.37 L2148.35,2018.37 L2157.89,2021.36 L2167.42,2024.33 L2176.96,2027.28 L2186.50,2030.22 L2196.04,2033.14 L2205.58,2036.05 L2215.11,2038.94 L2224.65,2041.81 L2234.19,2044.67 L2243.73,2047.52 L2253.26,2050.35 L2262.80,2053.17 L2272.34,2055.97 L2281.88,2058.75 L2291.41,2061.52 L2300.95,2064.28 L2310.49,2067.02 L2320.02,2069.75 L2329.56,2072.46 L2339.10,2075.16 L2348.64,2077.85 L2358.17,2080.52 L2367.71,2083.18 L2377.25,2085.83 L2386.79,2088.46 L2396.33,2091.08 L2405.86,2093.68 L2415.40,2096.27 L2424.94,2098.85 L2434.48,2101.42 L2444.01,2103.97 L2453.55,2106.51 L2463.09,2109.04 L2472.62,2111.55 L2482.16,2114.05 L2491.70,2116.54 L2501.24,2119.02 L2510.77,2121.48 L2520.31,2123.94 L2529.85,2126.38 L2539.39,2128.81 L2548.92,2131.22 L2558.46,2133.63 L2568.00,2136.02" stroke="#f80000" stroke-width="6.00" stroke-dasharray="14.0 14.2" fill="none"/>
<path d="M1042.00,1533.90 L1051.54,1540.03 L1061.07,1546.12 L1070.61,1552.16 L1080.15,1558.16 L1089.69,1564.11 L1099.23,1570.02 L1108.76,1575.88 L1118.30,1581.70 L1127.84,1587.48 L1137.38,1593.21 L1146.91,1598.91 L1156.45,1604.56 L1165.99,1610.17 L1175.52,1615.74 L1185.06,1621.27 L1194.60,1626.76 L1204.14,1632.21 L1213.68,1637.62 L1223.21,1642.99 L1232.75,1648.33 L1242.29,1653.62 L1251.82,1658.88 L1261.36,1664.10 L1270.90,1669.29 L1280.44,1674.44 L1289.98,1679.55 L1299.51,1684.63 L1309.05,1689.67 L1318.59,1694.68 L1328.12,1699.66 L1337.66,1704.60 L1347.20,1709.50 L1356.74,1714.37 L1366.27,1719.21 L1375.81,1724.02 L1385.35,1728.79 L1394.89,1733.53 L1404.43,1738.24 L1413.96,1742.92 L1423.50,1747.57 L1433.04,1752.19 L1442.57,1756.77 L1452.11,1761.33 L1461.65,1765.85 L1471.19,1770.35 L1480.73,1774.81 L1490.26,1779.25 L1499.80,1783.66 L1509.34,1788.04 L1518.88,1792.39 L1528.41,1796.71 L1537.95,1801.01 L1547.49,1805.28 L1557.02,1809.52 L1566.56,1813.73 L1576.10,1817.92 L1585.64,1822.08 L1595.18,1826.21 L1604.71,1830.32 L1614.25,1834.40 L1623.79,1838.46 L1633.32,1842.49 L1642.86,1846.49 L1652.40,1850.48 L1661.94,1854.43 L1671.48,1858.36 L1681.01,1862.27 L1690.55,1866.16 L1700.09,1870.02 L1709.62,1873.85 L1719.16,1877.67 L1728.70,1881.46 L1738.24,1885.22 L1747.77,1888.97 L1757.31,1892.69 L1766.85,1896.39 L1776.39,1900.07 L1785.93,1903.72 L1795.46,1907.36 L1805.00,1910.97 L1814.54,1914.56 L1824.08,1918.13 L1833.61,1921.68 L1843.15,1925.21 L1852.69,1928.72 L1862.23,1932.20 L1871.76,1935.67 L1881.30,1939.12 L1890.84,1942.54 L1900.38,1945.95 L1909.91,1949.34 L1919.45,1952.71 L1928.99,1956.05 L1938.52,1959.38 L1948.06,1962.70 L1957.60,1965.99 L1967.14,1969.26 L1976.67,1972.52 L1986.21,1975.75 L1995.75,1978.97 L2005.29,1982.17 L2014.83,1985.35 L2024.36,1988.52 L2033.90,1991.67 L2043.44,1994.79 L2052.98,1997.91 L2062.51,2001.00 L2072.05,2004.08 L2081.59,2007.14 L2091.12,2010.19 L2100.66,2013.22 L2110.20,2016.23 L2119.74,2019.22 L2129.27,2022.20 L2138.81,2025.17 L2148.35,2028.11 L2157.89,2031.04 L2167.42,2033.96 L2176.96,2036.86 L2186.50,2039.74 L2196.04,2042.61 L2205.58,2045.47 L2215.11,2048.31 L2224.65,2051.13 L2234.19,2053.94 L2243.73,2056.74 L2253.26,2059.51 L2262.80,2062.28 L2272.34,2065.03 L2281.88,2067.77 L2291.41,2070.49 L2300.95,2073.20 L2310.49,2075.89 L2320.02,2078.57 L2329.56,2081.24 L2339.10,2083.90 L2348.64,2086.53 L2358.17,2089.16 L2367.71,2091.77 L2377.25,2094.37 L2386.79,2096.96 L2396.33,2099.53 L2405.86,2102.10 L2415.40,2104.64 L2424.94,2107.18 L2434.48,2109.70 L2444.01,2112.21 L2453.55,2114.71 L2463.09,2117.19 L2472.62,2119.67 L2482.16,2122.13 L2491.70,2124.57 L2501.24,2127.01 L2510.77,2129.44 L2520.31,2131.85 L2529.85,2134.25 L2539.39,2136.64 L2548.92,2139.02 L2558.46,2141.38 L2568.00,2143.74" stroke="#0000f0" stroke-width="6.00" stroke-dasharray="3.6 13.8 13.9 13.7" fill="none"/>
<path d="M1042.00,1569.62 L1051.54,1575.45 L1061.07,1581.25 L1070.61,1587.00 L1080.15,1592.71 L1089.69,1598.38 L1099.23,1604.01 L1108.76,1609.60 L1118.30,1615.15 L1127.84,1620.66 L1137.38,1626.13 L1146.91,1631.56 L1156.45,1636.95 L1165.99,1642.31 L1175.52,1647.63 L1185.06,1652.91 L1194.60,1658.15 L1204.14,1663.36 L1213.68,1668.53 L1223.21,1673.66 L1232.75,1678.76 L1242.29,1683.82 L1251.82,1688.85 L1261.36,1693.85 L1270.90,1698.81 L1280.44,1703.74 L1289.98,1708.63 L1299.51,1713.49 L1309.05,1718.32 L1318.59,1723.11 L1328.12,1727.88 L1337.66,1732.61 L1347.20,1737.31 L1356.74,1741.98 L1366.27,1746.62 L1375.81,1751.22 L1385.35,1755.80 L1394.89,1760.35 L1404.43,1764.86 L1413.96,1769.35 L1423.50,1773.81 L1433.04,1778.24 L1442.57,1782.64 L1452.11,1787.01 L1461.65,1791.36 L1471.19,1795.68 L1480.73,1799.97 L1490.26,1804.23 L1499.80,1808.46 L1509.34,1812.67 L1518.88,1816.85 L1528.41,1821.01 L1537.95,1825.14 L1547.49,1829.24 L1557.02,1833.32 L1566.56,1837.37 L1576.10,1841.40 L1585.64,1845.40 L1595.18,1849.38 L1604.71,1853.33 L1614.25,1857.26 L1623.79,1861.16 L1633.32,1865.05 L1642.86,1868.90 L1652.40,1872.74 L1661.94,1876.55 L1671.48,1880.34 L1681.01,1884.10 L1690.55,1887.84 L1700.09,1891.56 L1709.62,1895.26 L1719.16,1898.94 L1728.70,1902.59 L1738.24,1906.22 L1747.77,1909.83 L1757.31,1913.42 L1766.85,1916.99 L1776.39,1920.54 L1785.93,1924.07 L1795.46,1927.58 L1805.00,1931.06 L1814.54,1934.53 L1824.08,1937.97 L1833.61,1941.40 L1843.15,1944.81 L1852.69,1948.19 L1862.23,1951.56 L1871.76,1954.91 L1881.30,1958.24 L1890.84,1961.55 L1900.38,1964.84 L1909.91,1968.12 L1919.45,1971.37 L1928.99,1974.61 L1938.52,1977.83 L1948.06,1981.03 L1957.60,1984.21 L1967.14,1987.38 L1976.67,1990.52 L1986.21,1993.65 L1995.75,1996.77 L2005.29,1999.86 L2014.83,2002.94 L2024.36,2006.00 L2033.90,2009.05 L2043.44,2012.08 L2052.98,2015.09 L2062.51,2018.09 L2072.05,2021.07 L2081.59,2024.03 L2091.12,2026.98 L2100.66,2029.91 L2110.20,2032.83 L2119.74,2035.73 L2129.27,2038.62 L2138.81,2041.49 L2148.35,2044.35 L2157.89,2047.19 L2167.42,2050.01 L2176.96,2052.82 L2186.50,2055.62 L2196.04,2058.40 L2205.58,2061.17 L2215.11,2063.92 L2224.65,2066.66 L2234.19,2069.38 L2243.73,2072.09 L2253.26,2074.79 L2262.80,2077.47 L2272.34,2080.14 L2281.88,2082.80 L2291.41,2085.44 L2300.95,2088.07 L2310.49,2090.68 L2320.02,2093.28 L2329.56,2095.87 L2339.10,2098.45 L2348.64,2101.01 L2358.17,2103.56 L2367.71,2106.10 L2377.25,2108.62 L2386.79,2111.13 L2396.33,2113.63 L2405.86,2116.12 L2415.40,2118.60 L2424.94,2121.06 L2434.48,2123.51 L2444.01,2125.95 L2453.55,2128.37 L2463.09,2130.79 L2472.62,2133.19 L2482.16,2135.58 L2491.70,2137.96 L2501.24,2140.33 L2510.77,2142.69 L2520.31,2145.03 L2529.85,2147.37 L2539.39,2149.69 L2548.92,2152.00 L2558.46,2154.31 L2568.00,2156.60" stroke="#ff8000" stroke-width="6.00" stroke-dasharray="35 44.9" fill="none"/>
<path d="M1042.00,2289.80v-13.50M1042.00,1307.50v13.50M1118.30,2289.80v-8.30M1118.30,1307.50v8.30M1194.60,2289.80v-8.30M1194.60,1307.50v8.30M1270.90,2289.80v-8.30M1270.90,1307.50v8.30M1347.20,2289.80v-8.30M1347.20,1307.50v8.30M1423.50,2289.80v-13.50M1423.50,1307.50v13.50M1499.80,2289.80v-8.30M1499.80,1307.50v8.30M1576.10,2289.80v-8.30M1576.10,1307.50v8.30M1652.40,2289.80v-8.30M1652.40,1307.50v8.30M1728.70,2289.80v-8.30M1728.70,1307.50v8.30M1805.00,2289.80v-13.50M1805.00,1307.50v13.50M1881.30,2289.80v-8.30M1881.30,1307.50v8.30M1957.60,2289.80v-8.30M1957.60,1307.50v8.30M2033.90,2289.80v-8.30M2033.90,1307.50v8.30M2110.20,2289.80v-8.30M2110.20,1307.50v8.30M2186.50,2289.80v-13.50M2186.50,1307.50v13.50M2262.80,2289.80v-8.30M2262.80,1307.50v8.30M2339.10,2289.80v-8.30M2339.10,1307.50v8.30M2415.40,2289.80v-8.30M2415.40,1307.50v8.30M2491.70,2289.80v-8.30M2491.70,1307.50v8.30M2568.00,2289.80v-13.50M2568.00,1307.50v13.50M1010.40,2289.80h13.50M2599.20,2289.80h-13.50M1010.40,2257.06h8.30M2599.20,2257.06h-8.30M1010.40,2224.31h8.30M2599.20,2224.31h-8.30M1010.40,2191.57h8.30M2599.20,2191.57h-8.30M1010.40,2158.83h8.30M2599.20,2158.83h-8.30M1010.40,2126.08h13.50M2599.20,2126.08h-13.50M1010.40,2093.34h8.30M2599.20,2093.34h-8.30M1010.40,2060.60h8.30M2599.20,2060.60h-8.30M1010.40,2027.85h8.30M2599.20,2027.85h-8.30M1010.40,1995.11h8.30M2599.20,1995.11h-8.30M1010.40,1962.37h13.50M2599.20,1962.37h-13.50M1010.40,1929.62h8.30M2599.20,1929.62h-8.30M1010.40,1896.88h8.30M2599.20,1896.88h-8.30M1010.40,1864.14h8.30M2599.20,1864.14h-8.30M1010.40,1831.39h8.30M2599.20,1831.39h-8.30M1010.40,1798.65h13.50M2599.20,1798.65h-13.50M1010.40,1765.91h8.30M2599.20,1765.91h-8.30M1010.40,1733.16h8.30M2599.20,1733.16h-8.30M1010.40,1700.42h8.30M2599.20,1700.42h-8.30M1010.40,1667.68h8.30M2599.20,1667.68h-8.30M1010.40,1634.93h13.50M2599.20,1634.93h-13.50M1010.40,1602.19h8.30M2599.20,1602.19h-8.30M1010.40,1569.45h8.30M2599.20,1569.45h-8.30M1010.40,1536.70h8.30M2599.20,1536.70h-8.30M1010.40,1503.96h8.30M2599.20,1503.96h-8.30M1010.40,1471.22h13.50M2599.20,1471.22h-13.50M1010.40,1438.47h8.30M2599.20,1438.47h-8.30M1010.40,1405.73h8.30M2599.20,1405.73h-8.30M1010.40,1372.99h8.30M2599.20,1372.99h-8.30M1010.40,1340.24h8.30M2599.20,1340.24h-8.30M1010.40,1307.50h13.50M2599.20,1307.50h-13.50" stroke="#666666" stroke-width="1.70" fill="none"/>
<rect x="1010.40" y="1307.50" width="1588.80" height="982.30" stroke="#666666" stroke-width="2.00" fill="none"/>
<g transform="translate(0,2319.15) scale(1,1.035) translate(0,-2319.15)">
<text x="1032.27" y="2331.68" font-size="35" fill="#666666">6</text>
</g>
<g transform="translate(0,2319.15) scale(1,1.035) translate(0,-2319.15)">
<text x="1413.77" y="2331.68" font-size="35" fill="#666666">7</text>
</g>
<g transform="translate(0,2319.15) scale(1,1.035) translate(0,-2319.15)">
<text x="1795.27" y="2331.68" font-size="35" fill="#666666">8</text>
</g>
<g transform="translate(0,2319.15) scale(1,1.035) translate(0,-2319.15)">
<text x="2176.77" y="2331.68" font-size="35" fill="#666666">9</text>
</g>
<g transform="translate(0,2319.15) scale(1,1.035) translate(0,-2319.15)">
<path transform="translate(2548.53,2331.68) scale(0.01709,-0.01709)" d="M763,0 L583,0 L583,1147 Q518,1085 412.5,1023 Q307,961 223,930 L223,1104 Q374,1175 487,1276 Q600,1377 647,1472 L763,1472 Z" fill="#666666"/>
<text x="2568.00" y="2331.68" font-size="35" fill="#666666">0</text>
</g>
<g transform="translate(0,2289.80) scale(1,1.035) translate(0,-2289.80)">
<text x="951.23" y="2302.33" font-size="35" fill="#666666">0.5</text>
</g>
<g transform="translate(0,2126.08) scale(1,1.035) translate(0,-2126.08)">
<text x="951.23" y="2138.61" font-size="35" fill="#666666">0.6</text>
</g>
<g transform="translate(0,1962.37) scale(1,1.035) translate(0,-1962.37)">
<text x="951.23" y="1974.90" font-size="35" fill="#666666">0.7</text>
</g>
<g transform="translate(0,1798.65) scale(1,1.035) translate(0,-1798.65)">
<text x="951.23" y="1811.18" font-size="35" fill="#666666">0.8</text>
</g>
<g transform="translate(0,1634.93) scale(1,1.035) translate(0,-1634.93)">
<text x="951.23" y="1647.46" font-size="35" fill="#666666">0.9</text>
</g>
<g transform="translate(0,1471.22) scale(1,1.035) translate(0,-1471.22)">
<path transform="translate(951.23,1483.75) scale(0.01709,-0.01709)" d="M763,0 L583,0 L583,1147 Q518,1085 412.5,1023 Q307,961 223,930 L223,1104 Q374,1175 487,1276 Q600,1377 647,1472 L763,1472 Z" fill="#666666"/>
<text x="970.69" y="1483.75" font-size="35" fill="#666666">.0</text>
</g>
<g transform="translate(0,1307.50) scale(1,1.035) translate(0,-1307.50)">
<path transform="translate(951.23,1320.03) scale(0.01709,-0.01709)" d="M763,0 L583,0 L583,1147 Q518,1085 412.5,1023 Q307,961 223,930 L223,1104 Q374,1175 487,1276 Q600,1377 647,1472 L763,1472 Z" fill="#666666"/>
<text x="970.69" y="1320.03" font-size="35" fill="#666666">.</text>
<path transform="translate(980.43,1320.03) scale(0.01709,-0.01709)" d="M763,0 L583,0 L583,1147 Q518,1085 412.5,1023 Q307,961 223,930 L223,1104 Q374,1175 487,1276 Q600,1377 647,1472 L763,1472 Z" fill="#666666"/>
</g>
</g>
<path d="M2222.40,1436.20h139" stroke="#000000" stroke-width="6.00" fill="none"/>
<path d="M2399.00,1441.20 L2413.00,1452.00" stroke="#000" stroke-width="3.6" fill="none"/>
<text transform="translate(2382.40,1450.10) scale(1,1.04)" font-size="41.5" fill="#000">O</text>
<path d="M2416.98,1433.60h19.7v2.9h-19.7z M2416.98,1442.50h19.7v2.9h-19.7z" fill="#000"/>
<text transform="translate(2438.91,1450.10) scale(1,1.04)" font-size="41.5" fill="#000">0</text>
<path d="M2225.00,1511.20h133" stroke="#f80000" stroke-width="6.00" stroke-dasharray="14.0 14.2" fill="none"/>
<path d="M2399.00,1516.20 L2413.00,1527.00" stroke="#000" stroke-width="3.6" fill="none"/>
<text transform="translate(2382.40,1525.10) scale(1,1.04)" font-size="41.5" fill="#000">O</text>
<path d="M2416.98,1508.60h19.7v2.9h-19.7z M2416.98,1517.50h19.7v2.9h-19.7z" fill="#000"/>
<text transform="translate(2438.91,1525.10) scale(1,1.04)" font-size="41.5" fill="#000">0.2</text>
<path d="M2225.00,1586.20h133" stroke="#0000f0" stroke-width="6.00" stroke-dasharray="3.6 13.8 13.9 13.7" fill="none"/>
<path d="M2399.00,1591.20 L2413.00,1602.00" stroke="#000" stroke-width="3.6" fill="none"/>
<text transform="translate(2382.40,1600.10) scale(1,1.04)" font-size="41.5" fill="#000">O</text>
<path d="M2416.98,1583.60h19.7v2.9h-19.7z M2416.98,1592.50h19.7v2.9h-19.7z" fill="#000"/>
<text transform="translate(2438.91,1600.10) scale(1,1.04)" font-size="41.5" fill="#000">0.4</text>
<path d="M2225.00,1661.20h133" stroke="#ff8000" stroke-width="6.00" stroke-dasharray="35 44.9" fill="none"/>
<path d="M2399.00,1666.20 L2413.00,1677.00" stroke="#000" stroke-width="3.6" fill="none"/>
<text transform="translate(2382.40,1675.10) scale(1,1.04)" font-size="41.5" fill="#000">O</text>
<path d="M2416.98,1658.60h19.7v2.9h-19.7z M2416.98,1667.50h19.7v2.9h-19.7z" fill="#000"/>
<text transform="translate(2438.91,1675.10) scale(1,1.04)" font-size="41.5" fill="#000">0.6</text>
<text transform="translate(1559.86,1263.80) scale(1.0158,1.015)" font-size="49" fill="#666666" font-weight="bold" font-style="italic">Ω</text>
<path d="M1618.90,1259.30 h24.30 l1,-4.6 h-24.30 z M1621.50,1248.20 h24.30 l1,-4.6 h-24.30 z" fill="#666666"/>
<text transform="translate(1661.40,1263.80) scale(0.9987,1.015)" font-size="49" fill="#666666" font-weight="bold" font-style="italic">0.5,</text>
<path transform="translate(1761.40,1263.80) scale(1.000,1)" d="M17.9,-23.7 C12.5,-19 6.5,-13 3.7,-8.5 C1.7,-5 3.2,-2.35 7.2,-2.35 C11.5,-2.35 15.3,-6.5 18.6,-12.5 L22.0,-18.8 C21,-14 19.2,-9 19.3,-5.8 C19.4,-3.2 21.5,-2.3 24.0,-2.3 C28.5,-2.3 33.5,-10 38.0,-24.1" fill="none" stroke="#666666" stroke-width="5.0" stroke-linejoin="round"/>
<text transform="translate(1795.95,1271.90) scale(1.0000,1.015)" font-size="34.5" fill="#666666" font-weight="bold" font-style="italic">p</text>
<text transform="translate(1823.95,1242.90) scale(0.8987,1.015)" font-size="34.5" fill="#666666" font-weight="bold" font-style="italic">2</text>
<text transform="translate(1842.30,1263.80) scale(1.0000,1.000)" font-size="46" fill="#666666" >/</text>
<path transform="translate(1861.00,1263.80) scale(0.975,1)" d="M17.9,-23.7 C12.5,-19 6.5,-13 3.7,-8.5 C1.7,-5 3.2,-2.35 7.2,-2.35 C11.5,-2.35 15.3,-6.5 18.6,-12.5 L22.0,-18.8 C21,-14 19.2,-9 19.3,-5.8 C19.4,-3.2 21.5,-2.3 24.0,-2.3 C28.5,-2.3 33.5,-10 38.0,-24.1" fill="none" stroke="#666666" stroke-width="5.0" stroke-linejoin="round"/>
<text transform="translate(1907.35,1242.90) scale(0.8987,1.015)" font-size="34.5" fill="#666666" font-weight="bold" font-style="italic">2</text>
<path d="M1943.10,1259.30 h23.60 l1,-4.6 h-23.60 z M1945.70,1248.20 h23.60 l1,-4.6 h-23.60 z" fill="#666666"/>
<text transform="translate(1985.77,1263.80) scale(0.9669,1.015)" font-size="49" fill="#666666" font-weight="bold" font-style="italic">0.5</text>
<text transform="translate(1763.66,2407.50) scale(0.9874,1.015)" font-size="49" fill="#666666" font-weight="bold" font-style="italic">b</text>
<text transform="translate(1791.80,2407.50) scale(1.0000,1.000)" font-size="46" fill="#666666" >/</text>
<text transform="translate(1806.36,2407.50) scale(0.9805,1.015)" font-size="49" fill="#666666" font-weight="bold" font-style="italic">M</text>
<g transform="translate(917.10,1841.50) rotate(-90)">
<g transform="translate(0.00,0.00)">
<path d="M21.00,-23.12 A14.00,10.60 -50.0 1 0 3.00,-1.68 A14.00,10.60 -50.0 1 0 21.00,-23.12 Z M19.22,-19.91 A10.00,4.70 -47.0 1 0 5.58,-5.29 A10.00,4.70 -47.0 1 0 19.22,-19.91 Z" fill="#666666" fill-rule="evenodd"/>
<path d="M33.9,-23.4 L18.6,-4.4" fill="none" stroke="#666666" stroke-width="5.0"/>
<path d="M20.5,-21.5 C23.2,-16 24.6,-9 25.7,-5.6 C26.3,-3.5 27.8,-2.5 30.4,-3.7" fill="none" stroke="#666666" stroke-width="4.8"/>
</g>
<text transform="translate(36.10,8.80) scale(1.0000,1.015)" font-size="34.5" fill="#666666" font-weight="bold" font-style="italic">uni</text>
<path d="M12,-30.3 L24.1,-41.6 L32.7,-30.3 L27.1,-30.3 L23.1,-35.0 L18.4,-30.3 Z" fill="#666666"/>
</g>
</svg>
</body></html>
